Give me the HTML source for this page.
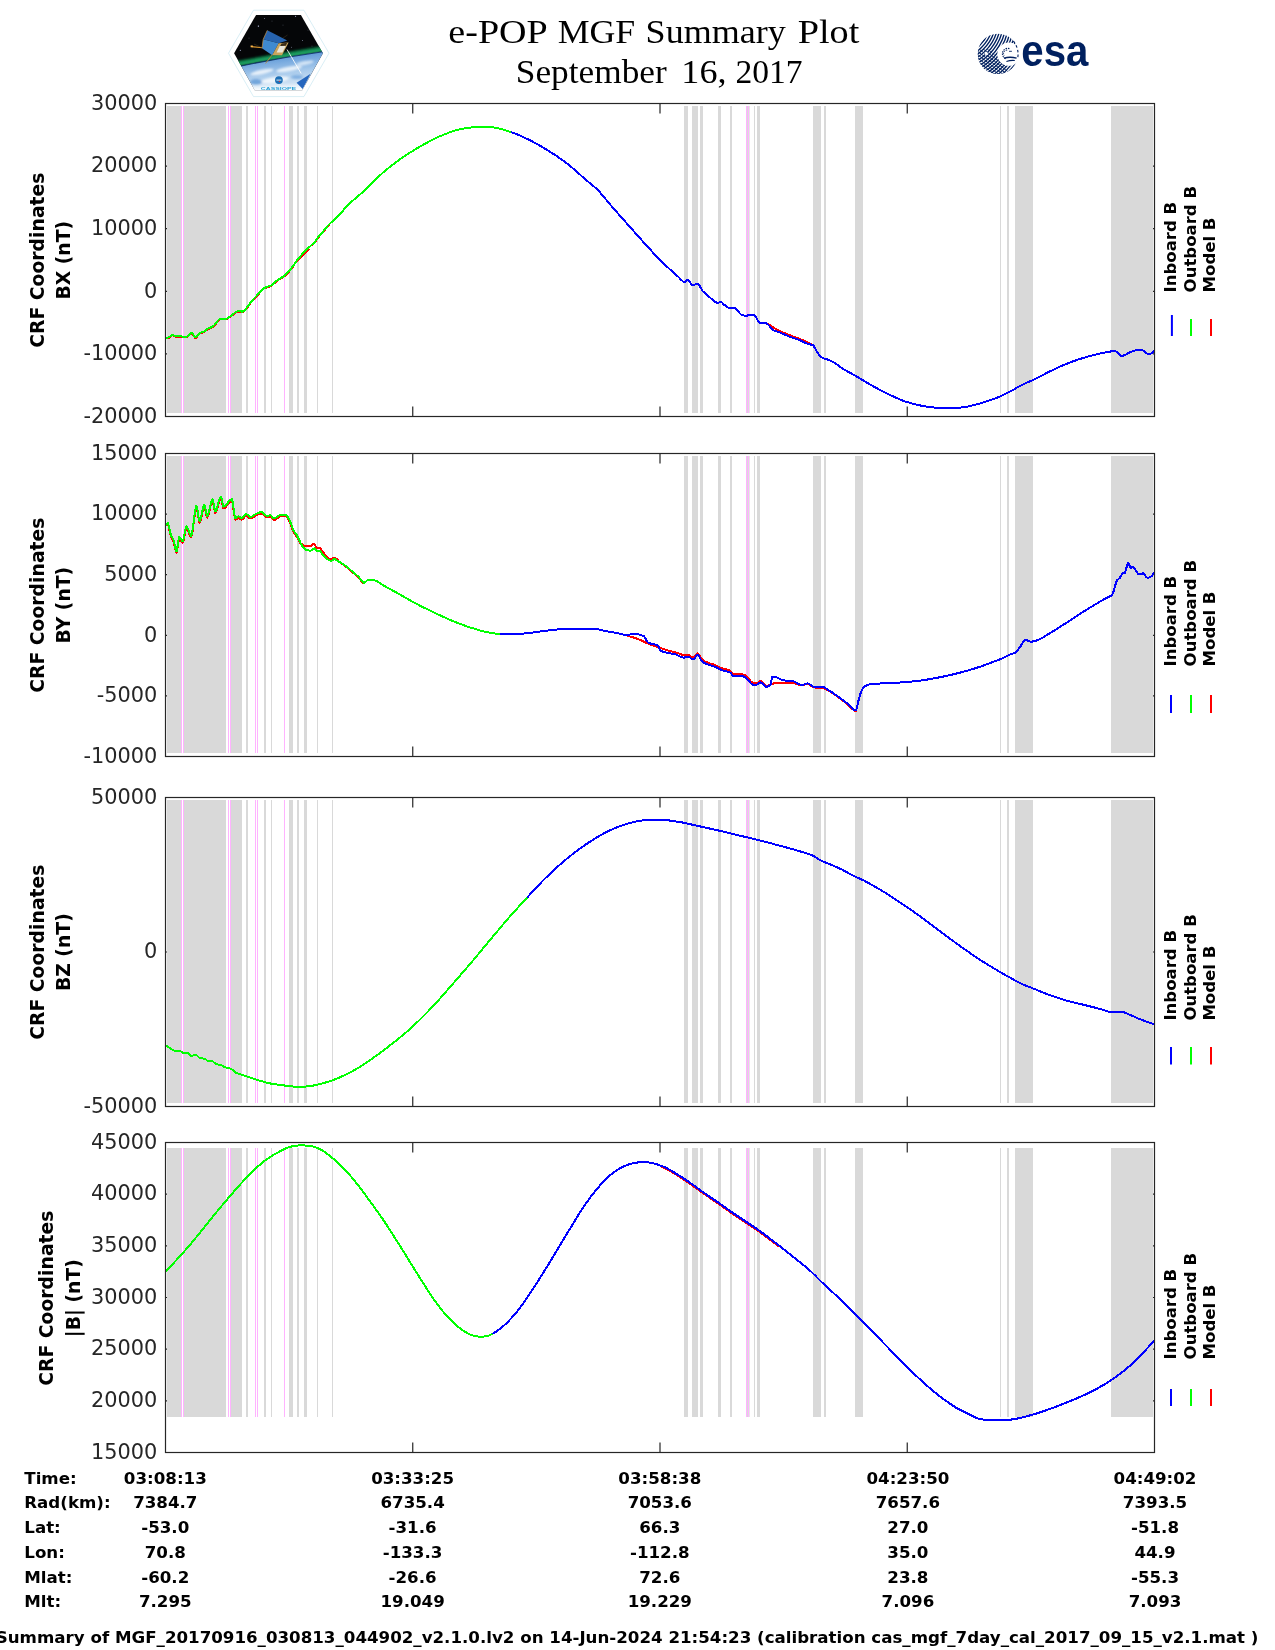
<!DOCTYPE html>
<html lang="en"><head><meta charset="utf-8"><title>e-POP MGF Summary Plot - September 16, 2017</title>
<style>
html,body{margin:0;padding:0;background:#fff}
body{width:1275px;height:1650px;overflow:hidden;position:relative}
svg{position:absolute;left:0;top:0;display:block;will-change:transform}
text{font-family:"DejaVu Sans","Liberation Sans",sans-serif}
.ti{font-family:"Liberation Serif","DejaVu Serif",serif;font-size:33px;fill:#000}
.tk{font-size:20.83px;fill:#262626}
.yl{font-size:18.8px;font-weight:bold;fill:#000}
.lg{font-size:16.55px;font-weight:bold;fill:#000}
.tb{font-size:16.67px;font-weight:bold;fill:#000}
.ft{font-size:16.67px;font-weight:bold;fill:#000}
</style></head><body>
<svg width="1275" height="1650" viewBox="0 0 1275 1650">
<rect width="1275" height="1650" fill="#fff"/>
<g id="cassiope-logo">
<defs>
<clipPath id="hexclip"><polygon points="234.1,53.3 256.1,14.9 300.9,14.9 322.9,53.3 302.2,90.2 254.8,90.2"/></clipPath>
<linearGradient id="earthg" x1="0" y1="0" x2="0.25" y2="1"><stop offset="0" stop-color="#2a69bb"/><stop offset="0.3" stop-color="#6ea3dc"/><stop offset="0.6" stop-color="#a9cbec"/><stop offset="0.85" stop-color="#cfe2f4"/><stop offset="1" stop-color="#e6f0fa"/></linearGradient>
<linearGradient id="fadeg" x1="0" y1="0" x2="0" y2="1"><stop offset="0" stop-color="#fff" stop-opacity="0"/><stop offset="1" stop-color="#fff" stop-opacity="1"/></linearGradient>
<filter id="blur1" x="-20%" y="-50%" width="140%" height="200%"><feGaussianBlur stdDeviation="1.1"/></filter>
<filter id="blur2" x="-20%" y="-20%" width="140%" height="140%"><feGaussianBlur stdDeviation="0.8"/></filter>
</defs>
<polygon points="228.5,53.2 253.5,10.2 303.9,10.2 329,53.2 303.9,96.6 253.5,96.6" fill="#fff" stroke="#bfe3ee" stroke-width="0.6"/>
<g clip-path="url(#hexclip)">
<rect x="230" y="12" width="96" height="82" fill="#050608"/>
<circle cx="258.4" cy="26.1" r="0.7" fill="#cfd8ff"/>
<circle cx="264.5" cy="18.5" r="0.4" fill="#cfd8ff"/>
<circle cx="295.6" cy="16.3" r="0.5" fill="#cfd8ff"/>
<circle cx="240.3" cy="50.2" r="0.5" fill="#cfd8ff"/>
<circle cx="302.4" cy="40.5" r="0.4" fill="#cfd8ff"/>
<circle cx="291.6" cy="47.2" r="0.4" fill="#cfd8ff"/>
<circle cx="283" cy="25" r="0.3" fill="#cfd8ff"/>
<circle cx="308" cy="30" r="0.3" fill="#cfd8ff"/>
<circle cx="272" cy="21" r="0.3" fill="#cfd8ff"/>
<circle cx="249" cy="38" r="0.3" fill="#cfd8ff"/>
<circle cx="312" cy="46" r="0.3" fill="#cfd8ff"/>
<path d="M232 64.3 Q275 56.3 325 48.3" stroke="#0f7a47" stroke-width="5" fill="none" filter="url(#blur1)"/><path d="M232 65.5 Q275 57.3 325 49.6" stroke="#27b06c" stroke-width="2.2" fill="none" filter="url(#blur2)"/>
<path d="M230 68.5 Q276 58.2 326 51.2 L326 95 L230 95 Z" fill="url(#earthg)"/>
<path d="M236 67.2 Q278 58.0 324 51.6" stroke="#0c2f66" stroke-width="1.1" fill="none" opacity="0.85"/>
<g filter="url(#blur2)" opacity="0.75"><ellipse cx="262" cy="72" rx="12" ry="2.2" fill="#fff" transform="rotate(-12 262 72)"/><ellipse cx="289" cy="69" rx="13" ry="2.4" fill="#fff" transform="rotate(-10 289 69)"/><ellipse cx="275" cy="80" rx="14" ry="3" fill="#fff" transform="rotate(-8 275 80)"/><ellipse cx="305" cy="63" rx="9" ry="2" fill="#eaf3fb" transform="rotate(-10 305 63)"/><ellipse cx="256" cy="82" rx="6" ry="3" fill="#5b95d4"/><ellipse cx="297" cy="77" rx="6" ry="2" fill="#6fa4dc"/></g>
<rect x="230" y="83" width="96" height="8" fill="url(#fadeg)"/>
<polygon points="296.6,82.7 310.6,73.8 302.7,89" fill="#2566bd"/>
<path d="M287 49.5 L301.2 73.5" stroke="#fff" stroke-width="0.9" opacity="0.95"/>
<path d="M251.5 46.6 L262.4 47.8" stroke="#d9952e" stroke-width="1.1"/>
<path d="M250.6 46.4 h2.2" stroke="#ffb84a" stroke-width="1.6"/>
<path d="M272.5 54.5 L265.6 63.4" stroke="#b98a3a" stroke-width="0.9"/>
<path d="M262 47.8 L254 44 M277 42 L287.5 35" stroke="#5a4a2a" stroke-width="0.4"/>
<polygon points="267.3,30.3 287.3,40.6 278.6,43.2 263.2,39.3" fill="#2763ae"/>
<polygon points="263.2,39.3 278.6,43.2 272.2,55.2 262,48.2" fill="#3f8ad0"/>
<polygon points="278.6,43.2 288.6,42.6 282,55.2 272.2,55.2" fill="#c9a45c"/>
<polygon points="279.8,46 285.8,45.8 282.4,52.4 276.6,52.4" fill="#e9e6da"/>
<polygon points="281.5,43.4 287.2,42.8 285.8,45.8 280.2,46" fill="#3a2c18"/>
<path d="M267.3 30.3 L263.2 39.3 L262 48.2" stroke="#c98f3c" stroke-width="0.7" fill="none"/>
<circle cx="278.9" cy="80.1" r="3.9" fill="#1c6fb6"/><path d="M276.4 80.1 h5" stroke="#fff" stroke-width="0.8"/><circle cx="279.4" cy="81.4" r="0.6" fill="#d33"/>
</g>
<text x="278.5" y="90.3" text-anchor="middle" textLength="35.4" lengthAdjust="spacingAndGlyphs" style="font-family:'Liberation Sans','DejaVu Sans',sans-serif;font-size:3.7px;font-weight:bold;fill:#2aa1d6">CASSIOPE</text>
</g>
<g id="esa-logo">
<defs>
<clipPath id="esaclip"><circle cx="997.9" cy="53.9" r="20.2"/></clipPath>
<mask id="esamask"><rect x="970" y="28" width="60" height="52" fill="#fff"/><circle cx="1008.9" cy="54.2" r="11.6" fill="#000"/><circle cx="986.2" cy="53.4" r="1.6" fill="#000"/></mask>
<clipPath id="esall"><polygon points="975,49 988,49 1004,63 1011,78 975,78"/></clipPath>
</defs>
<g clip-path="url(#esaclip)"><g mask="url(#esamask)">
<circle cx="952.9" cy="18.9" r="35.20" fill="none" stroke="#00205f" stroke-width="1.35"/>
<circle cx="952.9" cy="18.9" r="37.80" fill="none" stroke="#00205f" stroke-width="1.35"/>
<circle cx="952.9" cy="18.9" r="40.40" fill="none" stroke="#00205f" stroke-width="1.35"/>
<circle cx="952.9" cy="18.9" r="43.00" fill="none" stroke="#00205f" stroke-width="1.35"/>
<circle cx="952.9" cy="18.9" r="45.60" fill="none" stroke="#00205f" stroke-width="1.35"/>
<circle cx="952.9" cy="18.9" r="48.20" fill="none" stroke="#00205f" stroke-width="1.35"/>
<circle cx="952.9" cy="18.9" r="50.80" fill="none" stroke="#00205f" stroke-width="1.35"/>
<circle cx="952.9" cy="18.9" r="53.40" fill="none" stroke="#00205f" stroke-width="1.35"/>
<circle cx="952.9" cy="18.9" r="56.00" fill="none" stroke="#00205f" stroke-width="1.35"/>
<circle cx="952.9" cy="18.9" r="58.60" fill="none" stroke="#00205f" stroke-width="1.35"/>
<circle cx="952.9" cy="18.9" r="61.20" fill="none" stroke="#00205f" stroke-width="1.35"/>
<circle cx="952.9" cy="18.9" r="63.80" fill="none" stroke="#00205f" stroke-width="1.35"/>
<circle cx="952.9" cy="18.9" r="66.40" fill="none" stroke="#00205f" stroke-width="1.35"/>
<circle cx="952.9" cy="18.9" r="69.00" fill="none" stroke="#00205f" stroke-width="1.35"/>
<circle cx="952.9" cy="18.9" r="71.60" fill="none" stroke="#00205f" stroke-width="1.35"/>
<circle cx="952.9" cy="18.9" r="74.20" fill="none" stroke="#00205f" stroke-width="1.35"/>
<circle cx="952.9" cy="18.9" r="76.80" fill="none" stroke="#00205f" stroke-width="1.35"/>
<circle cx="952.9" cy="18.9" r="79.40" fill="none" stroke="#00205f" stroke-width="1.35"/>
<g clip-path="url(#esall)">
<path d="M967.9 27.90 H1027.9" transform="rotate(38 997.9 53.9)" stroke="#00205f" stroke-width="0.85"/>
<path d="M967.9 30.50 H1027.9" transform="rotate(38 997.9 53.9)" stroke="#00205f" stroke-width="0.85"/>
<path d="M967.9 33.10 H1027.9" transform="rotate(38 997.9 53.9)" stroke="#00205f" stroke-width="0.85"/>
<path d="M967.9 35.70 H1027.9" transform="rotate(38 997.9 53.9)" stroke="#00205f" stroke-width="0.85"/>
<path d="M967.9 38.30 H1027.9" transform="rotate(38 997.9 53.9)" stroke="#00205f" stroke-width="0.85"/>
<path d="M967.9 40.90 H1027.9" transform="rotate(38 997.9 53.9)" stroke="#00205f" stroke-width="0.85"/>
<path d="M967.9 43.50 H1027.9" transform="rotate(38 997.9 53.9)" stroke="#00205f" stroke-width="0.85"/>
<path d="M967.9 46.10 H1027.9" transform="rotate(38 997.9 53.9)" stroke="#00205f" stroke-width="0.85"/>
<path d="M967.9 48.70 H1027.9" transform="rotate(38 997.9 53.9)" stroke="#00205f" stroke-width="0.85"/>
<path d="M967.9 51.30 H1027.9" transform="rotate(38 997.9 53.9)" stroke="#00205f" stroke-width="0.85"/>
<path d="M967.9 53.90 H1027.9" transform="rotate(38 997.9 53.9)" stroke="#00205f" stroke-width="0.85"/>
<path d="M967.9 56.50 H1027.9" transform="rotate(38 997.9 53.9)" stroke="#00205f" stroke-width="0.85"/>
<path d="M967.9 59.10 H1027.9" transform="rotate(38 997.9 53.9)" stroke="#00205f" stroke-width="0.85"/>
<path d="M967.9 61.70 H1027.9" transform="rotate(38 997.9 53.9)" stroke="#00205f" stroke-width="0.85"/>
<path d="M967.9 64.30 H1027.9" transform="rotate(38 997.9 53.9)" stroke="#00205f" stroke-width="0.85"/>
<path d="M967.9 66.90 H1027.9" transform="rotate(38 997.9 53.9)" stroke="#00205f" stroke-width="0.85"/>
<path d="M967.9 69.50 H1027.9" transform="rotate(38 997.9 53.9)" stroke="#00205f" stroke-width="0.85"/>
<path d="M967.9 72.10 H1027.9" transform="rotate(38 997.9 53.9)" stroke="#00205f" stroke-width="0.85"/>
<path d="M967.9 74.70 H1027.9" transform="rotate(38 997.9 53.9)" stroke="#00205f" stroke-width="0.85"/>
<path d="M967.9 77.30 H1027.9" transform="rotate(38 997.9 53.9)" stroke="#00205f" stroke-width="0.85"/>
<path d="M967.9 79.90 H1027.9" transform="rotate(38 997.9 53.9)" stroke="#00205f" stroke-width="0.85"/>
</g>
</g></g>
<path d="M1013.4 41.2 A20.2 20.2 0 0 1 1017.6 58.5" fill="none" stroke="#00205f" stroke-width="1.1" stroke-dasharray="2.6 2.2"/>
<path d="M1009.4 48.6 A5.2 5.2 0 1 0 1006.2 58.9" fill="none" stroke="#00205f" stroke-width="1.1" stroke-dasharray="1.5 0.9"/>
<path d="M1007.2 50.2 A3.4 3.4 0 0 0 1004.2 55.6" fill="none" stroke="#00205f" stroke-width="1" stroke-dasharray="1.4 0.9"/>
<path d="M1009 51.3 h2.9" stroke="#00205f" stroke-width="0.9"/>
<path d="M1004 58.2 Q1010 56.3 1016.6 58.2" fill="none" stroke="#00205f" stroke-width="1.3"/>
<path d="M1006.4 61.6 Q1010.6 60 1014.8 60.5" fill="none" stroke="#00205f" stroke-width="1.1"/>
<text x="1021.3" y="66" textLength="67" lengthAdjust="spacingAndGlyphs" style="font-family:'Liberation Sans','DejaVu Sans',sans-serif;font-size:45px;font-weight:bold;fill:#00205f">esa</text>
</g>
<text class="ti" y="43.1"><tspan x="448.37" textLength="97.92" lengthAdjust="spacingAndGlyphs">e-POP</tspan> <tspan x="557.73" textLength="77.56" lengthAdjust="spacingAndGlyphs">MGF</tspan> <tspan x="645.63" textLength="140.10" lengthAdjust="spacingAndGlyphs">Summary</tspan> <tspan x="797.65" textLength="61.66" lengthAdjust="spacingAndGlyphs">Plot</tspan></text>
<text class="ti" y="83"><tspan x="515.83" textLength="150.85" lengthAdjust="spacingAndGlyphs">September</tspan> <tspan x="681.39" textLength="45.15" lengthAdjust="spacingAndGlyphs">16,</tspan> <tspan x="735.42" textLength="67.07" lengthAdjust="spacingAndGlyphs">2017</tspan></text>
<g id="plot1">
<path d="M412.75 103.5 v10 M412.75 416.5 v-10 M660.00 103.5 v10 M660.00 416.5 v-10 M907.25 103.5 v10 M907.25 416.5 v-10 M165.5 166.10 h10 M1154.5 166.10 h-10 M165.5 228.70 h10 M1154.5 228.70 h-10 M165.5 291.30 h10 M1154.5 291.30 h-10 M165.5 353.90 h10 M1154.5 353.90 h-10" stroke="#262626" stroke-width="1.2" fill="none"/>
<rect x="167" y="106" width="14" height="307" fill="#d9d9d9"/>
<rect x="181" y="106" width="1" height="307" fill="#ffb3ff"/>
<rect x="183" y="106" width="1" height="307" fill="#ffb3ff"/>
<rect x="184" y="106" width="42" height="307" fill="#d9d9d9"/>
<rect x="228" y="106" width="1" height="307" fill="#ffb3ff"/>
<rect x="230" y="106" width="1" height="307" fill="#ffb3ff"/>
<rect x="231" y="106" width="11" height="307" fill="#d9d9d9"/>
<rect x="246" y="106" width="2" height="307" fill="#d9d9d9"/>
<rect x="255" y="106" width="1" height="307" fill="#ffb3ff"/>
<rect x="257" y="106" width="1" height="307" fill="#ffb3ff"/>
<rect x="264" y="106" width="2" height="307" fill="#d9d9d9"/>
<rect x="271" y="106" width="1" height="307" fill="#d9d9d9"/>
<rect x="284" y="106" width="1" height="307" fill="#ffb3ff"/>
<rect x="289" y="106" width="4" height="307" fill="#d9d9d9"/>
<rect x="297" y="106" width="2" height="307" fill="#d9d9d9"/>
<rect x="304" y="106" width="3" height="307" fill="#d9d9d9"/>
<rect x="317" y="106" width="1" height="307" fill="#d9d9d9"/>
<rect x="332" y="106" width="1" height="307" fill="#d9d9d9"/>
<rect x="684" y="106" width="4" height="307" fill="#d9d9d9"/>
<rect x="692" y="106" width="6" height="307" fill="#d9d9d9"/>
<rect x="700" y="106" width="3" height="307" fill="#d9d9d9"/>
<rect x="718" y="106" width="3" height="307" fill="#d9d9d9"/>
<rect x="730" y="106" width="2" height="307" fill="#d9d9d9"/>
<rect x="746" y="106" width="1" height="307" fill="#ffb3ff"/>
<rect x="747" y="106" width="1" height="307" fill="#d9d9d9"/>
<rect x="748" y="106" width="1" height="307" fill="#ffb3ff"/>
<rect x="749" y="106" width="1" height="307" fill="#e6e6e6"/>
<rect x="754" y="106" width="1" height="307" fill="#d9d9d9"/>
<rect x="757" y="106" width="3" height="307" fill="#d9d9d9"/>
<rect x="813" y="106" width="8" height="307" fill="#d9d9d9"/>
<rect x="824" y="106" width="2" height="307" fill="#d9d9d9"/>
<rect x="855" y="106" width="8" height="307" fill="#d9d9d9"/>
<rect x="1000" y="106" width="1" height="307" fill="#d9d9d9"/>
<rect x="1007" y="106" width="2" height="307" fill="#d9d9d9"/>
<rect x="1015" y="106" width="18" height="307" fill="#d9d9d9"/>
<rect x="1111" y="106" width="42" height="307" fill="#d9d9d9"/>
<path d="M167.0 338.5 L168.0 338.1 L169.0 337.7 L169.4 337.5 L170.0 337.1 L171.0 336.2 L172.0 335.4 L172.5 335.3 L173.0 335.4 L174.0 336.0 L175.0 336.6 L175.7 336.9 L176.0 336.9 L177.0 336.9 L178.0 336.9 L179.0 336.9 L180.0 336.9 L180.4 336.9 L181.0 336.9 L182.0 337.0 L183.0 337.1 L184.0 337.3 L185.0 337.4 L185.9 337.5 L186.0 337.5 L187.0 337.0 L188.0 336.2 L189.0 335.3 L189.0 335.3 L190.0 334.5 L191.0 333.7 L191.8 333.4 L192.0 333.4 L193.0 334.5 L194.0 336.4 L195.0 337.8 L195.3 338.0 L196.0 337.7 L197.0 336.7 L198.0 335.4 L199.0 334.1 L200.0 333.3 L200.0 333.2 L201.0 333.0 L202.0 332.8 L203.0 332.5 L203.1 332.5 L204.0 332.0 L205.0 331.3 L206.0 330.4 L207.0 329.7 L207.1 329.6 L208.0 329.1 L209.0 328.7 L210.0 328.2 L211.0 327.8 L212.0 327.3 L213.0 326.7 L213.3 326.5 L214.0 326.0 L215.0 324.9 L216.0 323.6 L217.0 322.3 L218.0 321.0 L219.0 320.0 L220.0 319.5 L220.4 319.4 L221.0 319.4 L222.0 319.4 L223.0 319.4 L224.0 319.4 L225.0 319.4 L225.1 319.4 L226.0 319.3 L227.0 318.9 L228.0 318.3 L229.0 317.6 L230.0 316.9 L230.6 316.5 L231.0 316.2 L232.0 315.5 L233.0 314.7 L234.0 313.9 L235.0 313.1 L236.0 312.4 L237.0 311.9 L238.0 311.6 L238.4 311.6 L239.0 311.6 L240.0 311.8 L241.0 311.9 L242.0 312.1 L242.4 312.1 L243.0 311.9 L244.0 311.2 L245.0 310.2 L245.5 309.7 L246.0 309.2 L247.0 308.0 L248.0 306.6 L249.0 305.1 L250.0 303.7 L251.0 302.4 L251.0 302.3 L252.0 301.2 L253.0 300.1 L254.0 299.0 L255.0 298.0 L256.0 297.0 L257.0 295.9 L257.3 295.6 L258.0 294.8 L259.0 293.6 L260.0 292.3 L261.0 291.2 L262.0 290.1 L263.0 289.2 L263.5 288.9 L264.0 288.6 L265.0 288.2 L266.0 287.8 L267.0 287.5 L267.5 287.3 L268.0 287.1 L269.0 286.8 L270.0 286.5 L270.6 286.2 L271.0 286.0 L272.0 285.3 L273.0 284.5 L274.0 283.6 L275.0 282.7 L276.0 281.8 L277.0 280.9 L277.6 280.4 L278.0 280.2 L279.0 279.5 L280.0 278.9 L281.0 278.4 L282.0 277.8 L283.0 277.2 L284.0 276.6 L284.7 276.0 L285.0 275.8 L286.0 274.9 L287.0 273.9 L288.0 272.8 L289.0 271.6 L290.0 270.4 L291.0 269.1 L291.8 268.1 L292.0 267.9 L293.0 266.6 L294.0 265.2" stroke="#f00" stroke-width="2" fill="none" stroke-linejoin="round" shape-rendering="crispEdges"/>
<path d="M297.0 261.8 L298.0 260.4 L298.8 259.3 L299.0 259.2 L300.0 258.0 L301.0 256.9 L302.0 255.8 L303.0 254.8 L304.0 253.7 L305.0 252.7 L305.9 251.8 L306.0 251.7 L307.0 250.7 L308.0 249.7 L309.0 248.8" stroke="#f00" stroke-width="2" fill="none" stroke-linejoin="round" shape-rendering="crispEdges"/>
<path d="M312.0 245.1 L312.0 245.1 L313.0 244.2 L314.0 243.3 L314.5 242.7 L315.0 242.2 L316.0 240.6 L317.0 239.1 L317.0 239.1 L318.0 237.9 L319.0 236.7 L320.0 235.5 L321.0 234.4 L322.0 233.3 L322.6 232.5 L323.0 232.1 L324.0 230.9 L325.0 229.6 L326.0 228.4 L327.0 227.2 L328.0 226.0 L328.9 225.0 L329.0 224.9 L330.0 224.0" stroke="#f00" stroke-width="2" fill="none" stroke-linejoin="round" shape-rendering="crispEdges"/>
<path d="M768.0 323.5 L769.0 324.5 L770.0 325.3 L770.4 325.6 L771.0 326.0 L772.0 326.7 L773.0 327.3 L774.0 327.9 L775.0 328.5 L776.0 329.0 L777.0 329.5 L778.0 330.0 L779.0 330.5 L779.8 330.9 L780.0 331.0 L781.0 331.5 L782.0 332.0 L783.0 332.4 L784.0 332.8 L785.0 333.3 L786.0 333.7 L787.0 334.1 L788.0 334.5 L789.0 334.9 L789.2 335.0 L790.0 335.3 L791.0 335.7 L792.0 336.1 L793.0 336.4 L794.0 336.8 L795.0 337.2 L796.0 337.5 L797.0 337.9 L798.0 338.3 L799.0 338.6 L800.0 339.0 L801.0 339.4 L802.0 339.8 L803.0 340.2 L803.3 340.3 L804.0 340.6 L805.0 341.0 L806.0 341.5 L807.0 341.9 L808.0 342.4 L809.0 342.9 L810.0 343.4 L811.0 343.9 L812.0 344.4 L812.7 344.7" stroke="#f00" stroke-width="2" fill="none" stroke-linejoin="round" shape-rendering="crispEdges"/>
<path d="M510.0 131.7 L510.8 132.0 L511.0 132.1 L512.0 132.4 L513.0 132.7 L514.0 133.1 L515.0 133.5 L516.0 133.9 L517.0 134.3 L518.0 134.7 L519.0 135.1 L520.0 135.6 L521.0 136.0 L522.0 136.5 L523.0 136.9 L524.0 137.4 L525.0 137.9 L526.0 138.4 L527.0 138.9 L528.0 139.3 L529.0 139.8 L529.6 140.2 L530.0 140.3 L531.0 140.8 L532.0 141.3 L533.0 141.9 L534.0 142.4 L535.0 142.9 L536.0 143.5 L537.0 144.0 L538.0 144.6 L539.0 145.2 L540.0 145.7 L541.0 146.3 L542.0 146.9 L543.0 147.5 L544.0 148.1 L545.0 148.7 L546.0 149.3 L547.0 149.9 L548.0 150.5 L548.4 150.8 L549.0 151.2 L550.0 151.8 L551.0 152.4 L552.0 153.0 L553.0 153.7 L554.0 154.3 L555.0 155.0 L556.0 155.6 L557.0 156.3 L558.0 157.0 L559.0 157.7 L560.0 158.4 L561.0 159.1 L562.0 159.8 L563.0 160.5 L564.0 161.2 L565.0 162.0 L566.0 162.7 L567.0 163.5 L567.3 163.7 L568.0 164.2 L569.0 165.0 L570.0 165.8 L571.0 166.7 L572.0 167.5 L573.0 168.4 L574.0 169.2 L575.0 170.1 L576.0 171.0 L577.0 171.9 L578.0 172.8 L579.0 173.7 L580.0 174.6 L581.0 175.5 L582.0 176.4 L583.0 177.3 L584.0 178.2 L585.0 179.0 L586.0 179.9 L586.1 180.0 L587.0 180.8 L588.0 181.6 L589.0 182.4 L590.0 183.2 L591.0 184.0 L592.0 184.9 L593.0 185.7 L594.0 186.6 L595.0 187.4 L596.0 188.4 L597.0 189.3 L597.1 189.4 L598.0 190.3 L599.0 191.4 L600.0 192.4 L601.0 193.6 L602.0 194.7 L603.0 195.9 L604.0 197.1 L605.0 198.3 L606.0 199.5 L607.0 200.7 L608.0 201.9 L609.0 203.1 L610.0 204.3 L611.0 205.5 L611.2 205.7 L612.0 206.6 L613.0 207.8 L614.0 208.9 L615.0 210.0 L616.0 211.2 L617.0 212.3 L618.0 213.5 L619.0 214.6 L620.0 215.7 L621.0 216.9 L622.0 218.0 L623.0 219.1 L624.0 220.3 L625.0 221.4 L626.0 222.5 L627.0 223.6 L628.0 224.8 L629.0 225.9 L630.0 227.0 L630.0 227.1 L631.0 228.1 L632.0 229.3 L633.0 230.4 L634.0 231.5 L635.0 232.6 L636.0 233.8 L637.0 234.9 L638.0 236.0 L639.0 237.1 L640.0 238.3 L641.0 239.4 L642.0 240.5 L643.0 241.6 L644.0 242.7 L645.0 243.8 L646.0 244.9 L647.0 246.0 L648.0 247.1 L648.8 248.1 L649.0 248.2 L650.0 249.3 L651.0 250.4 L652.0 251.5 L653.0 252.6 L654.0 253.8 L655.0 254.9 L656.0 255.9 L657.0 257.0 L658.0 258.1 L659.0 259.1 L660.0 260.2 L661.0 261.2 L661.4 261.6 L662.0 262.1 L663.0 263.1 L664.0 264.0 L665.0 264.9 L666.0 265.8 L667.0 266.7 L668.0 267.6 L669.0 268.5 L670.0 269.4 L670.0 269.4 L671.0 270.3 L672.0 271.2 L673.0 272.1 L674.0 273.0 L675.0 273.9 L676.0 274.8 L677.0 275.7 L677.8 276.5 L678.0 276.6 L679.0 277.5 L680.0 278.6 L681.0 279.7 L682.0 280.6 L683.0 281.4 L684.0 281.9 L684.6 282.0 L685.0 281.8 L686.0 280.7 L687.0 279.7 L687.3 279.6 L688.0 279.9 L689.0 280.9 L690.0 282.3 L691.0 283.7 L692.0 284.8 L692.7 285.1 L693.0 285.1 L694.0 284.9 L695.0 284.5 L696.0 284.1 L697.0 283.9 L697.5 283.8 L698.0 284.0 L699.0 284.9 L700.0 286.5 L701.0 288.3 L702.0 290.0 L702.9 291.4 L703.0 291.4 L704.0 292.4 L705.0 293.4 L706.0 294.3 L707.0 295.1 L708.0 295.9 L709.0 296.7 L709.2 296.9 L710.0 297.5 L711.0 298.4 L712.0 299.3 L713.0 300.2 L714.0 301.0 L715.0 301.8 L716.0 302.3 L717.0 302.7 L717.8 302.8 L718.0 302.8 L719.0 302.6 L720.0 302.2 L721.0 302.0 L721.0 302.0 L722.0 302.5 L723.0 303.6 L724.0 304.6 L724.1 304.7 L725.0 305.3 L726.0 306.1 L727.0 306.8 L728.0 307.4 L729.0 307.9 L730.0 308.1 L730.4 308.2 L731.0 308.1 L732.0 308.0 L733.0 307.9 L734.0 307.9 L734.3 307.8 L735.0 308.0 L736.0 308.7 L737.0 309.7 L738.0 311.0 L739.0 312.3 L740.0 313.5 L741.0 314.4 L741.4 314.6 L742.0 314.8 L743.0 315.2 L744.0 315.5 L745.0 315.7 L746.0 315.8 L746.1 315.8 L747.0 315.7 L748.0 315.3 L749.0 314.9 L750.0 314.7 L750.0 314.7 L751.0 314.8 L752.0 314.8 L753.0 314.8 L753.9 314.9 L754.0 314.9 L755.0 315.6 L756.0 317.0 L757.0 318.8 L758.0 320.7 L759.0 322.2 L760.0 323.0 L760.2 323.1 L761.0 323.0 L762.0 323.0 L763.0 322.9 L764.0 322.8 L764.9 322.7 L765.0 322.7 L766.0 323.1 L767.0 323.8 L768.0 324.6 L768.0 324.6 L769.0 325.5 L770.0 326.8 L771.0 328.1 L772.0 329.2 L772.7 329.8 L773.0 329.9 L774.0 330.4 L775.0 330.8 L776.0 331.2 L777.0 331.5 L778.0 331.8 L779.0 332.2 L779.8 332.5 L780.0 332.5 L781.0 333.0 L782.0 333.4 L783.0 333.9 L784.0 334.3 L785.0 334.8 L786.0 335.2 L787.0 335.6 L787.6 335.9 L788.0 336.0 L789.0 336.4 L790.0 336.8 L791.0 337.1 L792.0 337.4 L793.0 337.7 L794.0 338.1 L795.0 338.4 L796.0 338.7 L797.0 339.1 L798.0 339.4 L798.6 339.7 L799.0 339.8 L800.0 340.2 L801.0 340.7 L802.0 341.2 L803.0 341.7 L804.0 342.2 L805.0 342.7 L806.0 343.1 L807.0 343.5 L808.0 343.9 L808.0 343.9 L809.0 344.2 L810.0 344.4 L811.0 344.6 L812.0 344.9 L812.7 345.2 L813.0 345.3 L814.0 346.4 L815.0 348.1 L816.0 350.0 L817.0 351.8 L817.5 352.5 L818.0 353.2 L819.0 354.6 L820.0 355.9 L821.0 356.9 L821.4 357.3 L822.0 357.6 L823.0 358.2 L824.0 358.6 L824.5 358.8 L825.0 359.0 L826.0 359.2 L827.0 359.4 L828.0 359.6 L828.4 359.8 L829.0 359.9 L830.0 360.4 L831.0 360.9 L832.0 361.4 L833.0 362.0 L834.0 362.6 L834.7 363.1 L835.0 363.2 L836.0 363.9 L837.0 364.6 L838.0 365.3 L839.0 366.0 L840.0 366.8 L841.0 367.5 L842.0 368.2 L842.5 368.5 L843.0 368.8 L844.0 369.4 L845.0 370.0 L846.0 370.6 L847.0 371.1 L848.0 371.7 L849.0 372.2 L850.0 372.8 L851.0 373.3 L852.0 373.9 L853.0 374.4 L854.0 375.0 L855.0 375.5 L855.1 375.6 L856.0 376.1 L857.0 376.7 L858.0 377.3 L859.0 377.9 L860.0 378.5 L861.0 379.1 L862.0 379.7 L863.0 380.3 L864.0 380.9 L865.0 381.5 L866.0 382.1 L867.0 382.7 L867.0 382.7 L868.0 383.3 L869.0 383.8 L870.0 384.4 L871.0 385.0 L872.0 385.5 L873.0 386.1 L874.0 386.7 L875.0 387.2 L876.0 387.8 L877.0 388.3 L878.0 388.9 L878.9 389.4 L879.0 389.4 L880.0 389.9 L881.0 390.4 L882.0 391.0 L883.0 391.5 L884.0 392.0 L885.0 392.5 L886.0 393.0 L887.0 393.5 L888.0 394.0 L889.0 394.4 L890.0 394.9 L890.9 395.4 L891.0 395.4 L892.0 395.9 L893.0 396.3 L894.0 396.8 L895.0 397.3 L896.0 397.7 L897.0 398.2 L898.0 398.6 L899.0 399.1 L900.0 399.5 L901.0 399.9 L902.0 400.3 L902.8 400.6 L903.0 400.7 L904.0 401.0 L905.0 401.4 L906.0 401.7 L907.0 402.0 L908.0 402.3 L909.0 402.6 L910.0 402.9 L911.0 403.2 L912.0 403.5 L913.0 403.7 L914.0 404.0 L914.8 404.2 L915.0 404.2 L916.0 404.5 L917.0 404.7 L918.0 405.0 L919.0 405.2 L920.0 405.4 L921.0 405.6 L922.0 405.8 L923.0 406.0 L924.0 406.2 L925.0 406.3 L926.0 406.5 L926.8 406.6 L927.0 406.6 L928.0 406.8 L929.0 406.9 L930.0 407.0 L931.0 407.1 L932.0 407.3 L933.0 407.4 L934.0 407.5 L935.0 407.6 L936.0 407.6 L937.0 407.7 L938.0 407.8 L938.7 407.8 L939.0 407.8 L940.0 407.8 L941.0 407.9 L942.0 407.9 L943.0 407.9 L944.0 408.0 L945.0 408.0 L946.0 408.0 L947.0 408.0 L948.0 408.0 L949.0 408.0 L950.0 408.0 L950.7 408.0 L951.0 408.0 L952.0 408.0 L953.0 408.0 L954.0 408.0 L955.0 407.9 L956.0 407.9 L957.0 407.8 L958.0 407.7 L959.0 407.6 L960.0 407.6 L961.0 407.5 L962.0 407.4 L962.7 407.3 L963.0 407.3 L964.0 407.2 L965.0 407.0 L966.0 406.9 L967.0 406.7 L968.0 406.5 L969.0 406.3 L970.0 406.0 L971.0 405.8 L972.0 405.6 L973.0 405.3 L974.0 405.1 L974.6 404.9 L975.0 404.8 L976.0 404.6 L977.0 404.3 L978.0 404.0 L979.0 403.8 L980.0 403.5 L981.0 403.2 L982.0 402.8 L983.0 402.5 L984.0 402.2 L985.0 401.9 L986.0 401.5 L986.6 401.3 L987.0 401.2 L988.0 400.9 L989.0 400.6 L990.0 400.2 L991.0 399.9 L992.0 399.5 L993.0 399.2 L994.0 398.8 L995.0 398.4 L996.0 398.1 L997.0 397.7 L998.0 397.3 L998.5 397.0 L999.0 396.9 L1000.0 396.4 L1001.0 396.0 L1002.0 395.5 L1003.0 395.1 L1004.0 394.6 L1005.0 394.1 L1006.0 393.6 L1007.0 393.1 L1008.0 392.6 L1009.0 392.1 L1010.0 391.6 L1010.5 391.3 L1011.0 391.1 L1012.0 390.5 L1013.0 390.0 L1014.0 389.4 L1015.0 388.8 L1016.0 388.2 L1017.0 387.6 L1018.0 387.0 L1019.0 386.5 L1020.0 385.9 L1021.0 385.4 L1022.0 384.8 L1022.5 384.6 L1023.0 384.4 L1024.0 383.9 L1025.0 383.4 L1026.0 383.0 L1027.0 382.6 L1028.0 382.1 L1029.0 381.7 L1030.0 381.3 L1031.0 380.9 L1032.0 380.5 L1033.0 380.0 L1034.0 379.5 L1034.4 379.3 L1035.0 379.1 L1036.0 378.6 L1037.0 378.1 L1038.0 377.6 L1039.0 377.0 L1040.0 376.5 L1041.0 376.0 L1042.0 375.4 L1043.0 374.9 L1044.0 374.4 L1045.0 373.8 L1046.0 373.3 L1046.4 373.1 L1047.0 372.8 L1048.0 372.3 L1049.0 371.8 L1050.0 371.3 L1051.0 370.8 L1052.0 370.4 L1053.0 369.9 L1054.0 369.4 L1055.0 368.9 L1056.0 368.5 L1057.0 368.0 L1058.0 367.5 L1058.3 367.4 L1059.0 367.1 L1060.0 366.6 L1061.0 366.2 L1062.0 365.8 L1063.0 365.3 L1064.0 364.9 L1065.0 364.5 L1066.0 364.1 L1067.0 363.7 L1068.0 363.3 L1069.0 362.9 L1070.0 362.5 L1070.3 362.3 L1071.0 362.1 L1072.0 361.7 L1073.0 361.4 L1074.0 361.0 L1075.0 360.7 L1076.0 360.3 L1077.0 360.0 L1078.0 359.6 L1079.0 359.3 L1080.0 359.0 L1081.0 358.7 L1082.0 358.4 L1082.3 358.3 L1083.0 358.1 L1084.0 357.8 L1085.0 357.5 L1086.0 357.2 L1087.0 356.9 L1088.0 356.6 L1089.0 356.3 L1090.0 356.0 L1091.0 355.8 L1092.0 355.5 L1093.0 355.2 L1094.0 355.0 L1094.2 354.9 L1095.0 354.7 L1096.0 354.5 L1097.0 354.3 L1098.0 354.0 L1099.0 353.8 L1100.0 353.6 L1101.0 353.3 L1102.0 353.1 L1103.0 352.9 L1104.0 352.7 L1105.0 352.5 L1106.0 352.3 L1106.2 352.3 L1107.0 352.2 L1108.0 352.0 L1109.0 351.8 L1110.0 351.6 L1111.0 351.4 L1112.0 351.3 L1113.0 351.2 L1114.0 351.1 L1114.6 351.1 L1115.0 351.1 L1116.0 351.6 L1117.0 352.3 L1118.0 353.3 L1119.0 354.3 L1120.0 355.1 L1121.0 355.7 L1121.7 355.9 L1122.0 355.9 L1123.0 355.7 L1124.0 355.4 L1125.0 355.0 L1126.0 354.4 L1127.0 353.9 L1128.0 353.3 L1129.0 352.8 L1130.0 352.4 L1130.1 352.3 L1131.0 352.0 L1132.0 351.6 L1133.0 351.2 L1134.0 350.9 L1135.0 350.5 L1136.0 350.2 L1137.0 350.0 L1138.0 349.9 L1138.5 349.9 L1139.0 349.9 L1140.0 350.0 L1141.0 350.0 L1142.0 350.1 L1142.1 350.1 L1143.0 350.4 L1144.0 351.0 L1145.0 351.9 L1146.0 352.7 L1147.0 353.5 L1148.0 354.1 L1148.8 354.2 L1149.0 354.2 L1150.0 354.0 L1151.0 353.5 L1152.0 352.8 L1153.0 351.9 L1154.0 350.7 L1154.0 350.6" stroke="#00f" stroke-width="2" fill="none" stroke-linejoin="round" shape-rendering="crispEdges"/>
<path d="M166.0 338.2 L167.0 338.0 L168.0 337.6 L169.0 337.2 L169.4 337.0 L170.0 336.6 L171.0 335.7 L172.0 334.9 L172.5 334.8 L173.0 334.9 L174.0 335.5 L175.0 336.1 L175.7 336.4 L176.0 336.4 L177.0 336.4 L178.0 336.4 L179.0 336.4 L180.0 336.4 L180.4 336.4 L181.0 336.4 L182.0 336.5 L183.0 336.6 L184.0 336.8 L185.0 336.9 L185.9 337.0 L186.0 337.0 L187.0 336.5 L188.0 335.7 L189.0 334.8 L189.0 334.8 L190.0 334.0 L191.0 333.2 L191.8 332.9 L192.0 332.9 L193.0 334.0 L194.0 335.9 L195.0 337.3 L195.3 337.5 L196.0 337.2 L197.0 336.2 L198.0 334.9 L199.0 333.6 L200.0 332.8 L200.0 332.7 L201.0 332.5 L202.0 332.3 L203.0 332.0 L203.1 332.0 L204.0 331.5 L205.0 330.8 L206.0 329.9 L207.0 329.2 L207.1 329.1 L208.0 328.6 L209.0 328.2 L210.0 327.7 L211.0 327.3 L212.0 326.8 L213.0 326.2 L213.3 326.0 L214.0 325.5 L215.0 324.4 L216.0 323.1 L217.0 321.8 L218.0 320.5 L219.0 319.5 L220.0 319.0 L220.4 318.9 L221.0 318.9 L222.0 318.9 L223.0 318.9 L224.0 318.9 L225.0 318.9 L225.1 318.9 L226.0 318.8 L227.0 318.4 L228.0 317.8 L229.0 317.1 L230.0 316.4 L230.6 316.0 L231.0 315.7 L232.0 315.0 L233.0 314.2 L234.0 313.4 L235.0 312.6 L236.0 311.9 L237.0 311.4 L238.0 311.1 L238.4 311.1 L239.0 311.1 L240.0 311.3 L241.0 311.4 L242.0 311.6 L242.4 311.6 L243.0 311.4 L244.0 310.7 L245.0 309.7 L245.5 309.2 L246.0 308.7 L247.0 307.5 L248.0 306.1 L249.0 304.6 L250.0 303.2 L251.0 301.9 L251.0 301.8 L252.0 300.7 L253.0 299.6 L254.0 298.5 L255.0 297.5 L256.0 296.5 L257.0 295.4 L257.3 295.1 L258.0 294.3 L259.0 293.1 L260.0 291.8 L261.0 290.7 L262.0 289.6 L263.0 288.7 L263.5 288.4 L264.0 288.1 L265.0 287.7 L266.0 287.3 L267.0 287.0 L267.5 286.8 L268.0 286.6 L269.0 286.3 L270.0 286.0 L270.6 285.7 L271.0 285.5 L272.0 284.8 L273.0 284.0 L274.0 283.1 L275.0 282.2 L276.0 281.3 L277.0 280.4 L277.6 279.9 L278.0 279.7 L279.0 279.0 L280.0 278.4 L281.0 277.9 L282.0 277.3 L283.0 276.7 L284.0 276.1 L284.7 275.5 L285.0 275.3 L286.0 274.4 L287.0 273.4 L288.0 272.3 L289.0 271.1 L290.0 269.9 L291.0 268.6 L291.8 267.6 L292.0 267.4 L293.0 266.1 L294.0 264.7 L295.0 263.2 L296.0 261.8 L297.0 260.4 L298.0 259.0 L298.8 257.9 L299.0 257.8 L300.0 256.6 L301.0 255.5 L302.0 254.4 L303.0 253.4 L304.0 252.3 L305.0 251.3 L305.9 250.4 L306.0 250.3 L307.0 249.3 L308.0 248.3 L309.0 247.4 L310.0 246.4 L311.0 245.5 L312.0 244.6 L312.0 244.6 L313.0 243.7 L314.0 242.8 L314.5 242.2 L315.0 241.7 L316.0 240.1 L317.0 238.6 L317.0 238.6 L318.0 237.4 L319.0 236.2 L320.0 235.0 L321.0 233.9 L322.0 232.8 L322.6 232.0 L323.0 231.6 L324.0 230.4 L325.0 229.1 L326.0 227.9 L327.0 226.7 L328.0 225.5 L328.9 224.5 L329.0 224.4 L330.0 223.5 L331.0 222.6 L332.0 221.7 L332.7 221.1 L333.0 220.8 L334.0 219.8 L335.0 218.8 L336.0 217.8 L337.0 216.8 L338.0 215.8 L339.0 214.8 L340.0 213.8 L340.2 213.5 L341.0 212.7 L342.0 211.6 L343.0 210.6 L344.0 209.4 L345.0 208.3 L346.0 207.2 L347.0 206.2 L348.0 205.1 L349.0 204.1 L349.6 203.5 L350.0 203.1 L351.0 202.2 L352.0 201.3 L353.0 200.5 L354.0 199.6 L355.0 198.8 L356.0 197.9 L357.0 197.1 L358.0 196.2 L359.0 195.4 L359.0 195.3 L360.0 194.5 L361.0 193.6 L362.0 192.7 L363.0 191.8 L364.0 190.9 L364.7 190.3 L365.0 190.0 L366.0 189.1 L367.0 188.2 L368.0 187.2 L369.0 186.2 L370.0 185.2 L371.0 184.3 L372.0 183.3 L373.0 182.3 L374.0 181.3 L375.0 180.3 L376.0 179.3 L377.0 178.3 L378.0 177.3 L379.0 176.3 L380.0 175.4 L381.0 174.4 L382.0 173.5 L383.0 172.6 L384.0 171.7 L385.0 170.9 L385.3 170.6 L386.0 170.0 L387.0 169.2 L388.0 168.4 L389.0 167.6 L390.0 166.8 L391.0 166.0 L392.0 165.2 L393.0 164.5 L394.0 163.7 L395.0 163.0 L396.0 162.2 L397.0 161.5 L398.0 160.8 L399.0 160.0 L400.0 159.3 L401.0 158.6 L402.0 157.9 L403.0 157.3 L404.0 156.6 L404.1 156.5 L405.0 155.9 L406.0 155.2 L407.0 154.6 L408.0 153.9 L409.0 153.3 L410.0 152.6 L411.0 152.0 L412.0 151.4 L413.0 150.7 L414.0 150.1 L415.0 149.5 L416.0 148.9 L417.0 148.3 L418.0 147.7 L419.0 147.1 L420.0 146.5 L421.0 146.0 L422.0 145.4 L422.9 144.9 L423.0 144.9 L424.0 144.3 L425.0 143.7 L426.0 143.2 L427.0 142.7 L428.0 142.1 L429.0 141.6 L430.0 141.0 L431.0 140.5 L432.0 140.0 L433.0 139.5 L434.0 139.0 L435.0 138.5 L436.0 138.0 L437.0 137.5 L438.0 137.1 L439.0 136.6 L440.0 136.2 L441.0 135.8 L441.8 135.5 L442.0 135.4 L443.0 135.0 L444.0 134.6 L445.0 134.2 L446.0 133.8 L447.0 133.4 L448.0 133.0 L449.0 132.6 L450.0 132.3 L451.0 131.9 L452.0 131.6 L453.0 131.2 L454.0 130.9 L455.0 130.6 L456.0 130.3 L457.0 130.0 L458.0 129.8 L459.0 129.5 L460.0 129.3 L460.6 129.2 L461.0 129.1 L462.0 128.9 L463.0 128.7 L464.0 128.5 L465.0 128.4 L466.0 128.2 L467.0 128.0 L468.0 127.9 L469.0 127.8 L470.0 127.6 L471.0 127.5 L472.0 127.4 L473.0 127.3 L473.1 127.3 L474.0 127.2 L475.0 127.1 L476.0 127.0 L477.0 126.9 L478.0 126.9 L479.0 126.8 L480.0 126.7 L481.0 126.7 L482.0 126.7 L482.5 126.7 L483.0 126.7 L484.0 126.7 L485.0 126.7 L486.0 126.8 L487.0 126.8 L488.0 126.9 L489.0 127.0 L490.0 127.1 L491.0 127.2 L492.0 127.3 L493.0 127.4 L494.0 127.5 L495.0 127.7 L496.0 127.9 L497.0 128.1 L498.0 128.3 L499.0 128.5 L500.0 128.8 L501.0 129.0 L502.0 129.3 L503.0 129.6 L504.0 129.9 L505.0 130.2 L506.0 130.5 L507.0 130.8 L508.0 131.1 L509.0 131.4 L510.0 131.7 L510.8 132.0" stroke="#0f0" stroke-width="2" fill="none" stroke-linejoin="round" shape-rendering="crispEdges"/>
<rect x="165.5" y="103.5" width="989.0" height="313.0" fill="none" stroke="#262626" stroke-width="1.2"/>
<text class="tk" x="157.2" y="109.7" text-anchor="end">30000</text>
<text class="tk" x="157.2" y="172.3" text-anchor="end">20000</text>
<text class="tk" x="157.2" y="234.9" text-anchor="end">10000</text>
<text class="tk" x="157.2" y="297.5" text-anchor="end">0</text>
<text class="tk" x="157.2" y="360.1" text-anchor="end">-10000</text>
<text class="tk" x="157.2" y="422.7" text-anchor="end">-20000</text>
<text class="yl" transform="translate(44.0 260.2) rotate(-90)" text-anchor="middle">CRF Coordinates</text>
<text class="yl" transform="translate(70.2 260.2) rotate(-90)" text-anchor="middle">BX (nT)</text>
<text class="lg" transform="translate(1176.4 292.4) rotate(-90)">Inboard B</text>
<text class="lg" transform="translate(1196.2 292.4) rotate(-90)">Outboard B</text>
<text class="lg" transform="translate(1215.2 292.4) rotate(-90)">Model B</text>
<path d="M1171.9 315 V336" stroke="#00f" stroke-width="2"/><path d="M1191 319 V336" stroke="#0f0" stroke-width="2"/><path d="M1211 319 V336" stroke="#f00" stroke-width="2"/>
</g>
<g id="plot2">
<path d="M412.75 453.5 v10 M412.75 756.5 v-10 M660.00 453.5 v10 M660.00 756.5 v-10 M907.25 453.5 v10 M907.25 756.5 v-10 M165.5 514.10 h10 M1154.5 514.10 h-10 M165.5 574.70 h10 M1154.5 574.70 h-10 M165.5 635.30 h10 M1154.5 635.30 h-10 M165.5 695.90 h10 M1154.5 695.90 h-10" stroke="#262626" stroke-width="1.2" fill="none"/>
<rect x="167" y="456" width="14" height="297" fill="#d9d9d9"/>
<rect x="181" y="456" width="1" height="297" fill="#ffb3ff"/>
<rect x="183" y="456" width="1" height="297" fill="#ffb3ff"/>
<rect x="184" y="456" width="42" height="297" fill="#d9d9d9"/>
<rect x="228" y="456" width="1" height="297" fill="#ffb3ff"/>
<rect x="230" y="456" width="1" height="297" fill="#ffb3ff"/>
<rect x="231" y="456" width="11" height="297" fill="#d9d9d9"/>
<rect x="246" y="456" width="2" height="297" fill="#d9d9d9"/>
<rect x="255" y="456" width="1" height="297" fill="#ffb3ff"/>
<rect x="257" y="456" width="1" height="297" fill="#ffb3ff"/>
<rect x="264" y="456" width="2" height="297" fill="#d9d9d9"/>
<rect x="271" y="456" width="1" height="297" fill="#d9d9d9"/>
<rect x="284" y="456" width="1" height="297" fill="#ffb3ff"/>
<rect x="289" y="456" width="4" height="297" fill="#d9d9d9"/>
<rect x="297" y="456" width="2" height="297" fill="#d9d9d9"/>
<rect x="304" y="456" width="3" height="297" fill="#d9d9d9"/>
<rect x="317" y="456" width="1" height="297" fill="#d9d9d9"/>
<rect x="332" y="456" width="1" height="297" fill="#d9d9d9"/>
<rect x="684" y="456" width="4" height="297" fill="#d9d9d9"/>
<rect x="692" y="456" width="6" height="297" fill="#d9d9d9"/>
<rect x="700" y="456" width="3" height="297" fill="#d9d9d9"/>
<rect x="718" y="456" width="3" height="297" fill="#d9d9d9"/>
<rect x="730" y="456" width="2" height="297" fill="#d9d9d9"/>
<rect x="746" y="456" width="1" height="297" fill="#ffb3ff"/>
<rect x="747" y="456" width="1" height="297" fill="#d9d9d9"/>
<rect x="748" y="456" width="1" height="297" fill="#ffb3ff"/>
<rect x="749" y="456" width="1" height="297" fill="#e6e6e6"/>
<rect x="754" y="456" width="1" height="297" fill="#d9d9d9"/>
<rect x="757" y="456" width="3" height="297" fill="#d9d9d9"/>
<rect x="813" y="456" width="8" height="297" fill="#d9d9d9"/>
<rect x="824" y="456" width="2" height="297" fill="#d9d9d9"/>
<rect x="855" y="456" width="8" height="297" fill="#d9d9d9"/>
<rect x="1000" y="456" width="1" height="297" fill="#d9d9d9"/>
<rect x="1007" y="456" width="2" height="297" fill="#d9d9d9"/>
<rect x="1015" y="456" width="18" height="297" fill="#d9d9d9"/>
<rect x="1111" y="456" width="42" height="297" fill="#d9d9d9"/>
<path d="M167.0 525.1 L167.8 524.7 L168.0 524.8 L169.0 527.8 L170.0 533.1 L171.0 537.2 L171.0 537.3 L172.0 539.0 L173.0 540.5 L173.3 541.2 L174.0 543.3 L175.0 548.3 L176.0 552.3 L176.5 553.0 L177.0 551.7 L178.0 544.7 L179.0 539.0 L179.1 538.9 L180.0 539.4 L181.0 540.8 L182.0 542.3 L182.7 542.8 L183.0 542.6 L184.0 538.8 L185.0 532.8 L186.0 528.4 L186.4 527.9 L187.0 528.3 L188.0 530.4 L189.0 533.3 L190.0 536.0 L191.0 537.3 L191.1 537.3 L192.0 535.0 L193.0 528.6 L194.0 520.4 L195.0 512.8 L196.0 508.0 L196.4 507.5 L197.0 508.8 L198.0 515.1 L199.0 521.4 L199.5 522.7 L200.0 522.3 L201.0 519.3 L202.0 514.5 L203.0 509.8 L204.0 506.7 L204.4 506.4 L205.0 507.7 L206.0 513.5 L207.0 517.6 L207.1 517.7 L208.0 516.5 L209.0 513.0 L210.0 508.5 L211.0 504.2 L212.0 501.3 L212.5 500.7 L213.0 501.5 L214.0 507.4 L215.0 512.7 L215.2 513.0 L216.0 512.3 L217.0 509.6 L218.0 505.8 L219.0 502.0 L220.0 499.1 L220.9 498.1 L221.0 498.1 L222.0 501.8 L223.0 507.1 L223.5 508.3 L224.0 508.2 L225.0 507.7 L226.0 506.7 L227.0 505.5 L228.0 504.1 L229.0 502.8 L230.0 501.7 L231.0 501.0 L231.8 500.7 L232.0 500.8 L233.0 505.4 L234.0 513.4 L235.0 519.2 L235.3 519.7 L236.0 519.5 L237.0 518.8 L238.0 518.1 L238.4 518.0 L239.0 518.1 L240.0 518.8 L241.0 519.5 L241.6 519.7 L242.0 519.6 L243.0 518.9 L244.0 517.7 L245.0 516.5 L246.0 515.8 L246.3 515.8 L247.0 516.0 L248.0 516.9 L249.0 517.8 L250.0 518.4 L250.2 518.5 L251.0 518.4 L252.0 518.0 L253.0 517.4 L254.0 516.8 L255.0 516.1 L256.0 515.4 L257.0 515.0 L257.3 514.9 L258.0 514.6 L259.0 514.3 L260.0 514.0 L261.0 513.8 L262.0 513.8 L262.0 513.8 L263.0 514.2 L264.0 515.2 L265.0 516.3 L266.0 517.1 L266.7 517.4 L267.0 517.4 L268.0 517.2 L269.0 517.1 L270.0 516.9 L270.6 516.9 L271.0 517.0 L272.0 518.2 L273.0 519.6 L273.7 520.0 L274.0 520.0 L275.0 519.8 L276.0 519.2 L277.0 518.5 L278.0 517.8 L279.0 517.1 L280.0 516.6 L280.8 516.4 L281.0 516.4 L282.0 516.3 L283.0 516.2 L284.0 516.2 L285.0 516.1 L285.5 516.1 L286.0 516.2 L287.0 517.2 L288.0 518.9 L289.0 520.8 L289.4 521.6 L290.0 522.8 L291.0 525.4 L292.0 528.4 L293.0 531.0 L293.3 531.8 L294.0 532.9 L295.0 534.4 L296.0 535.7 L297.0 537.1 L298.0 538.7 L298.0 538.9 L299.0 540.9 L300.0 543.4" stroke="#f00" stroke-width="2" fill="none" stroke-linejoin="round" shape-rendering="crispEdges"/>
<path d="M301.2 543.5 L302.2 544.3 L303.2 544.9 L304.2 545.5 L305.2 545.8 L305.9 545.9 L306.2 545.9 L307.2 545.9 L308.2 545.9 L309.2 545.9 L310.2 545.9 L310.6 545.9 L311.2 545.7 L312.2 544.8 L313.2 544.0 L313.7 543.8 L314.2 544.1 L315.2 545.6 L316.2 547.3 L316.9 547.8 L317.2 547.8 L318.2 547.8 L319.2 547.8 L319.2 547.8 L320.2 548.3 L321.2 549.6 L322.2 551.2 L323.1 552.5 L323.2 552.5 L324.2 553.6 L325.2 554.7 L326.2 555.9 L327.2 557.0 L328.2 557.9 L329.2 558.6 L330.2 559.1 L331.0 559.2 L331.2 559.2 L332.2 558.8 L333.2 558.2 L334.1 558.0 L334.2 558.0 L335.2 558.1 L336.2 558.6 L337.2 559.4 L338.2 560.4 L338.8 561.3" stroke="#f00" stroke-width="2" fill="none" stroke-linejoin="round" shape-rendering="crispEdges"/>
<path d="M340.0 562.8 L341.0 563.4 L342.0 564.0 L343.0 564.6 L344.0 565.3 L345.0 566.0 L346.0 566.7 L347.0 567.4 L348.0 568.2 L348.2 568.4 L349.0 569.1 L350.0 570.1 L350.0 570.2 L351.0 571.1 L352.0 571.9 L353.0 572.7 L354.0 573.6 L355.0 574.4 L356.0 575.2 L357.0 576.0 L358.0 576.9 L358.8 577.7 L359.0 577.9 L360.0 579.1 L361.0 580.6 L362.0 582.0 L363.0 582.9 L363.8 583.3 L364.0 583.3 L365.0 582.9" stroke="#f00" stroke-width="2" fill="none" stroke-linejoin="round" shape-rendering="crispEdges"/>
<path d="M616.1 632.9 L617.1 633.1 L618.1 633.3 L619.1 633.6 L620.1 633.8 L621.1 634.1 L622.1 634.3 L623.1 634.6 L624.1 634.8 L625.1 635.1 L626.1 635.4 L626.1 635.4 L627.1 635.6 L628.1 635.9 L629.1 636.2 L630.1 636.5 L631.1 636.8 L632.1 637.1 L633.1 637.4 L634.1 637.7 L635.1 638.0 L636.1 638.4 L636.2 638.4 L637.1 638.7 L638.1 639.1 L639.1 639.5 L640.1 639.9 L641.1 640.4 L642.1 640.8 L643.1 641.2 L644.1 641.6 L645.1 642.0 L646.1 642.4 L646.2 642.4 L647.1 642.7 L648.1 643.0 L649.1 643.4 L650.1 643.7 L651.1 644.0 L652.1 644.3 L653.1 644.6 L654.1 644.9 L655.1 645.1 L656.1 645.4 L656.3 645.4" stroke="#f00" stroke-width="2" fill="none" stroke-linejoin="round" shape-rendering="crispEdges"/>
<path d="M640.0 639.8 L641.0 640.3 L642.0 640.8 L643.0 641.3 L644.0 641.8 L645.0 642.2 L646.0 642.7 L647.0 643.1 L648.0 643.5 L649.0 643.9 L649.4 644.1 L650.0 644.3 L651.0 644.7 L652.0 645.0 L653.0 645.4 L654.0 645.7 L655.0 646.0 L656.0 646.4 L657.0 646.7 L658.0 647.0 L658.8 647.3 L659.0 647.4 L660.0 647.7 L661.0 648.1 L662.0 648.4 L663.0 648.8 L664.0 649.1 L665.0 649.5 L666.0 649.8 L667.0 650.1 L668.0 650.4 L668.2 650.5 L669.0 650.7 L670.0 651.0 L671.0 651.2 L672.0 651.5 L673.0 651.7 L674.0 652.0 L675.0 652.2 L676.0 652.5 L677.0 652.8 L677.6 652.9 L678.0 653.0 L679.0 653.4 L680.0 653.8 L681.0 654.3 L682.0 654.7 L683.0 655.0 L684.0 655.3 L685.0 655.4 L685.2 655.4 L686.0 655.3 L687.0 655.0 L688.0 654.8 L689.0 655.1 L690.0 655.7 L691.0 656.5 L692.0 657.2 L693.0 657.6 L693.3 657.6 L694.0 657.3 L695.0 656.1 L696.0 654.6 L697.0 653.6 L697.4 653.5 L698.0 653.7 L699.0 654.8 L700.0 656.5 L701.0 658.1 L702.0 659.4 L702.1 659.5 L703.0 660.2 L704.0 660.8 L705.0 661.4 L705.9 661.8 L706.0 661.8 L707.0 662.3 L708.0 662.7 L709.0 663.0 L710.0 663.4 L711.0 663.7 L712.0 664.0 L713.0 664.3 L714.0 664.7 L715.0 665.1 L715.3 665.2 L716.0 665.5 L717.0 665.9 L718.0 666.4 L719.0 666.9 L720.0 667.4 L721.0 667.8 L722.0 668.2 L722.8 668.6 L723.0 668.6 L724.0 668.9 L725.0 669.2 L726.0 669.4 L727.0 669.6 L728.0 669.9 L729.0 670.2 L730.0 670.6 L730.4 670.8 L731.0 671.5 L732.0 673.0 L733.0 674.0 L733.2 674.0 L734.0 674.0 L735.0 674.0 L736.0 673.9 L737.0 673.8 L738.0 673.7 L739.0 673.7 L739.8 673.6 L740.0 673.7 L741.0 673.8 L742.0 674.0 L743.0 674.4 L744.0 674.9 L745.0 675.3 L745.4 675.5 L746.0 675.9 L747.0 676.8 L748.0 677.9 L749.0 679.2 L750.0 680.4 L751.0 681.5 L752.0 682.3 L752.9 682.7 L753.0 682.7 L754.0 682.8 L755.0 683.0 L756.0 683.0 L756.7 683.1 L757.0 683.0 L758.0 682.5 L759.0 681.7 L760.0 681.1 L760.5 681.0 L761.0 681.1 L762.0 681.9 L763.0 683.1 L764.0 684.3 L765.0 685.4 L766.0 685.9 L766.1 685.9 L767.0 685.8 L768.0 685.5 L769.0 685.1 L770.0 684.6 L771.0 684.2 L771.8 684.0 L772.0 683.9 L773.0 683.7 L774.0 683.4 L775.0 683.1 L776.0 682.9 L777.0 682.7 L778.0 682.6 L779.0 682.5 L779.3 682.5 L780.0 682.5 L781.0 682.5 L782.0 682.5 L783.0 682.5 L784.0 682.5 L785.0 682.5 L786.0 682.6 L787.0 682.6 L788.0 682.6 L789.0 682.6 L790.0 682.7 L790.6 682.7 L791.0 682.7 L792.0 682.8 L793.0 683.0 L794.0 683.2 L795.0 683.5 L796.0 683.8 L797.0 684.1 L798.0 684.3 L798.1 684.4 L799.0 684.7 L800.0 685.1 L801.0 685.4 L801.9 685.5 L802.0 685.5 L803.0 685.4 L804.0 685.0 L805.0 684.6 L806.0 684.3 L807.0 684.0 L807.5 684.0 L808.0 684.0 L809.0 684.4 L810.0 685.0 L811.0 685.7 L812.0 686.5 L813.0 687.1 L814.0 687.4 L814.1 687.4 L815.0 687.5 L816.0 687.5 L817.0 687.6 L818.0 687.6 L819.0 687.6 L820.0 687.7 L821.0 687.7 L821.6 687.8 L822.0 687.8 L823.0 688.0 L824.0 688.3 L825.0 688.7 L826.0 689.2 L827.0 689.8 L828.0 690.4 L829.0 691.1 L830.0 691.8 L830.1 691.9" stroke="#f00" stroke-width="2" fill="none" stroke-linejoin="round" shape-rendering="crispEdges"/>
<path d="M830.1 691.7 L831.0 692.2 L832.0 692.8 L833.0 693.5 L834.0 694.2 L835.0 694.9 L836.0 695.6 L837.0 696.4 L838.0 697.1 L839.0 697.8 L839.5 698.2 L840.0 698.6 L841.0 699.3 L842.0 700.0 L843.0 700.8 L844.0 701.5 L845.0 702.3 L846.0 703.0 L847.0 703.8 L847.1 703.9 L848.0 704.6 L849.0 705.6 L850.0 706.7 L851.0 707.7 L852.0 708.7 L853.0 709.6 L854.0 710.2 L855.0 710.7 L855.9 710.9 L856.0 710.8" stroke="#f00" stroke-width="2" fill="none" stroke-linejoin="round" shape-rendering="crispEdges"/>
<path d="M500.0 633.9 L500.6 633.9 L501.0 633.9 L502.0 633.9 L503.0 633.9 L504.0 633.9 L505.0 633.9 L506.0 633.9 L507.0 633.9 L508.0 633.9 L509.0 633.9 L510.0 633.9 L511.0 633.9 L512.0 633.9 L513.0 633.9 L514.0 633.9 L515.0 633.9 L515.7 633.9 L516.0 633.9 L517.0 633.9 L518.0 633.8 L519.0 633.8 L520.0 633.8 L521.0 633.7 L522.0 633.6 L523.0 633.6 L524.0 633.5 L525.0 633.4 L525.7 633.4 L526.0 633.4 L527.0 633.3 L528.0 633.2 L529.0 633.1 L530.0 632.9 L531.0 632.8 L532.0 632.7 L533.0 632.5 L534.0 632.4 L535.0 632.2 L536.0 632.1 L537.0 631.9 L538.0 631.8 L539.0 631.6 L540.0 631.5 L540.8 631.4 L541.0 631.3 L542.0 631.2 L543.0 631.1 L544.0 631.0 L545.0 630.8 L546.0 630.7 L547.0 630.6 L548.0 630.5 L549.0 630.3 L550.0 630.2 L551.0 630.1 L552.0 630.0 L553.0 629.9 L554.0 629.8 L555.0 629.7 L555.9 629.6 L556.0 629.6 L557.0 629.5 L558.0 629.4 L559.0 629.3 L560.0 629.2 L561.0 629.1 L562.0 629.0 L563.0 629.0 L564.0 628.9 L565.0 628.9 L565.9 628.9 L566.0 628.9 L567.0 628.9 L568.0 628.9 L569.0 628.9 L570.0 628.9 L571.0 628.9 L572.0 628.9 L573.0 628.9 L574.0 628.9 L575.0 628.9 L576.0 628.9 L577.0 628.9 L578.0 628.9 L579.0 628.9 L580.0 628.9 L581.0 628.9 L581.0 628.9 L582.0 628.9 L583.0 628.9 L584.0 628.9 L585.0 628.9 L586.0 628.9 L587.0 628.9 L588.0 628.9 L589.0 628.9 L590.0 628.9 L591.0 629.0 L592.0 629.0 L593.0 629.0 L594.0 629.0 L595.0 629.1 L596.0 629.1 L596.0 629.1 L597.0 629.2 L598.0 629.3 L599.0 629.5 L600.0 629.7 L601.0 629.9 L602.0 630.1 L603.0 630.4 L604.0 630.7 L605.0 630.9 L606.0 631.1 L606.1 631.1 L607.0 631.3 L608.0 631.5 L609.0 631.6 L610.0 631.8 L611.0 632.0 L612.0 632.1 L613.0 632.3 L614.0 632.5 L615.0 632.7 L616.0 632.8 L616.1 632.9 L617.0 633.0 L618.0 633.3 L619.0 633.5 L620.0 633.8 L621.0 634.1 L622.0 634.3 L623.0 634.5 L624.0 634.7 L625.0 634.8 L626.0 634.9 L626.1 634.9 L627.0 634.8 L628.0 634.7 L629.0 634.6 L630.0 634.5 L631.0 634.4 L631.2 634.4 L632.0 634.4 L633.0 634.4 L634.0 634.4 L635.0 634.4 L636.0 634.4 L637.0 634.4 L637.4 634.4 L638.0 634.4 L639.0 634.5 L640.0 634.7 L641.0 635.0 L642.0 635.4 L643.0 635.8 L643.7 636.1 L644.0 636.3 L645.0 637.5 L646.0 639.3 L647.0 641.2 L648.0 642.6 L648.5 643.0 L649.0 643.1 L650.0 643.4 L651.0 643.6 L652.0 643.8 L653.0 644.0 L653.2 644.1 L654.0 644.3 L655.0 644.5 L656.0 644.7 L657.0 645.0 L657.9 645.4 L658.0 645.5 L659.0 647.5 L660.0 650.0 L660.3 650.5 L661.0 650.9 L662.0 651.3 L663.0 651.7 L664.0 652.0 L665.0 652.2 L666.0 652.5 L667.0 652.7 L668.0 652.9 L668.2 652.9 L669.0 653.1 L670.0 653.3 L671.0 653.5 L672.0 653.7 L673.0 653.8 L674.0 654.0 L675.0 654.2 L675.8 654.4 L676.0 654.5 L677.0 654.9 L678.0 655.4 L679.0 655.9 L680.0 656.4 L681.0 656.9 L682.0 657.3 L683.0 657.6 L683.7 657.6 L684.0 657.6 L685.0 657.4 L686.0 657.1 L687.0 656.8 L688.0 656.7 L688.0 656.7 L689.0 657.0 L690.0 657.6 L691.0 658.4 L692.0 659.1 L693.0 659.5 L693.3 659.5 L694.0 659.2 L695.0 657.8 L696.0 656.2 L697.0 655.0 L697.4 654.8 L698.0 655.0 L699.0 656.2 L700.0 658.0 L701.0 659.9 L702.0 661.3 L702.1 661.4 L703.0 662.1 L704.0 662.7 L705.0 663.2 L705.9 663.7 L706.0 663.7 L707.0 664.1 L708.0 664.5 L709.0 664.9 L710.0 665.2 L711.0 665.6 L712.0 665.9 L713.0 666.2 L714.0 666.6 L715.0 666.9 L715.3 667.1 L716.0 667.3 L717.0 667.8 L718.0 668.3 L719.0 668.7 L720.0 669.2 L721.0 669.7 L722.0 670.1 L722.8 670.4 L723.0 670.5 L724.0 670.8 L725.0 671.1 L726.0 671.3 L727.0 671.5 L728.0 671.8 L729.0 672.1 L730.0 672.5 L730.4 672.7 L731.0 673.3 L732.0 674.8 L733.0 675.9 L733.2 675.9 L734.0 675.9 L735.0 675.8 L736.0 675.8 L737.0 675.7 L738.0 675.6 L739.0 675.5 L739.8 675.5 L740.0 675.5 L741.0 675.7 L742.0 675.9 L743.0 676.3 L744.0 676.7 L745.0 677.2 L745.4 677.4 L746.0 677.7 L747.0 678.7 L748.0 679.9 L749.0 681.2 L750.0 682.4 L751.0 683.5 L752.0 684.3 L752.9 684.6 L753.0 684.6 L754.0 684.6 L755.0 684.6 L756.0 684.6 L756.7 684.6 L757.0 684.5 L758.0 684.0 L759.0 683.2 L760.0 682.6 L760.5 682.5 L761.0 682.6 L762.0 683.2 L763.0 684.3 L764.0 685.4 L765.0 686.4 L766.0 686.8 L766.1 686.8 L767.0 686.7 L768.0 686.4 L769.0 685.8 L770.0 685.0 L770.8 684.0 L771.0 683.6 L772.0 677.2 L772.1 676.8 L773.0 676.9 L774.0 676.9 L775.0 677.0 L775.5 677.0 L776.0 677.1 L777.0 677.4 L778.0 677.8 L779.0 678.4 L780.0 678.9 L781.0 679.5 L782.0 679.9 L783.0 680.2 L783.1 680.2 L784.0 680.4 L785.0 680.5 L786.0 680.6 L787.0 680.7 L788.0 680.7 L789.0 680.8 L790.0 680.9 L791.0 681.0 L792.0 681.1 L792.5 681.2 L793.0 681.3 L794.0 681.6 L795.0 682.0 L796.0 682.6 L797.0 683.1 L798.0 683.7 L799.0 684.2 L800.0 684.6 L801.0 684.9 L801.9 684.9 L802.0 684.9 L803.0 684.8 L804.0 684.5 L805.0 684.1 L806.0 683.7 L807.0 683.5 L807.5 683.4 L808.0 683.5 L809.0 683.8 L810.0 684.5 L811.0 685.2 L812.0 686.0 L813.0 686.5 L814.0 686.8 L814.1 686.8 L815.0 686.8 L816.0 686.8 L817.0 686.8 L818.0 686.8 L819.0 686.8 L820.0 686.8 L821.0 686.8 L821.6 686.8 L822.0 686.8 L823.0 687.0 L824.0 687.3 L825.0 687.8 L826.0 688.4 L827.0 689.1 L828.0 689.7 L829.0 690.4 L830.0 691.1 L830.1 691.2 L831.0 691.7 L832.0 692.3 L833.0 693.0 L834.0 693.7 L835.0 694.4 L836.0 695.1 L837.0 695.9 L838.0 696.6 L839.0 697.3 L839.5 697.7 L840.0 698.1 L841.0 698.8 L842.0 699.5 L843.0 700.3 L844.0 701.0 L845.0 701.8 L846.0 702.5 L847.0 703.3 L847.1 703.4 L848.0 704.1 L849.0 705.1 L850.0 706.2 L851.0 707.2 L852.0 708.2 L853.0 709.1 L854.0 709.7 L855.0 710.2 L855.9 710.4 L856.0 710.3 L857.0 707.5 L858.0 702.6 L858.4 700.9 L859.0 698.7 L860.0 695.0 L861.0 692.0 L861.2 691.5 L862.0 690.0 L863.0 688.4 L864.0 687.1 L864.9 686.3 L865.0 686.2 L866.0 685.7 L867.0 685.2 L868.0 684.8 L869.0 684.5 L869.6 684.4 L870.0 684.3 L871.0 684.2 L872.0 684.1 L873.0 684.0 L874.0 683.9 L875.0 683.8 L876.0 683.7 L877.0 683.7 L878.0 683.6 L879.0 683.5 L880.0 683.5 L881.0 683.4 L882.0 683.4 L883.0 683.3 L883.5 683.3 L884.0 683.3 L885.0 683.2 L886.0 683.2 L887.0 683.1 L888.0 683.1 L889.0 683.0 L890.0 683.0 L891.0 682.9 L892.0 682.9 L893.0 682.8 L894.0 682.8 L895.0 682.7 L896.0 682.7 L897.0 682.7 L898.0 682.6 L899.0 682.6 L900.0 682.5 L901.0 682.4 L902.0 682.4 L902.4 682.4 L903.0 682.3 L904.0 682.2 L905.0 682.2 L906.0 682.1 L907.0 682.0 L908.0 681.9 L909.0 681.8 L910.0 681.7 L911.0 681.6 L912.0 681.5 L913.0 681.4 L914.0 681.3 L915.0 681.2 L916.0 681.1 L917.0 681.0 L918.0 680.9 L919.0 680.7 L920.0 680.6 L921.0 680.5 L921.2 680.5 L922.0 680.4 L923.0 680.2 L924.0 680.1 L925.0 679.9 L926.0 679.8 L927.0 679.6 L928.0 679.4 L929.0 679.3 L930.0 679.1 L931.0 678.9 L932.0 678.7 L933.0 678.5 L934.0 678.4 L935.0 678.2 L936.0 678.0 L937.0 677.8 L938.0 677.6 L939.0 677.4 L940.0 677.2 L940.0 677.2 L941.0 677.0 L942.0 676.8 L943.0 676.6 L944.0 676.4 L945.0 676.2 L946.0 675.9 L947.0 675.7 L948.0 675.5 L949.0 675.3 L950.0 675.1 L951.0 674.8 L952.0 674.6 L953.0 674.4 L954.0 674.1 L955.0 673.9 L956.0 673.7 L957.0 673.4 L958.0 673.2 L958.8 672.9 L959.0 672.9 L960.0 672.7 L961.0 672.4 L962.0 672.1 L963.0 671.9 L964.0 671.6 L965.0 671.3 L966.0 671.0 L967.0 670.8 L968.0 670.5 L969.0 670.2 L970.0 669.9 L971.0 669.6 L972.0 669.3 L973.0 669.0 L974.0 668.7 L975.0 668.4 L976.0 668.1 L977.0 667.8 L977.6 667.5 L978.0 667.4 L979.0 667.1 L980.0 666.8 L981.0 666.4 L982.0 666.0 L983.0 665.7 L984.0 665.3 L985.0 664.9 L986.0 664.5 L987.0 664.2 L988.0 663.8 L989.0 663.4 L990.0 663.0 L991.0 662.7 L991.8 662.4 L992.0 662.3 L993.0 661.9 L994.0 661.6 L995.0 661.2 L996.0 660.8 L997.0 660.5 L998.0 660.1 L999.0 659.7 L1000.0 659.3 L1001.0 658.9 L1001.2 658.8 L1002.0 658.5 L1003.0 658.0 L1004.0 657.5 L1005.0 656.9 L1006.0 656.4 L1007.0 655.9 L1008.0 655.4 L1008.2 655.3 L1009.0 655.0 L1010.0 654.6 L1011.0 654.3 L1012.0 654.0 L1013.0 653.6 L1014.0 653.2 L1015.0 652.7 L1015.3 652.5 L1016.0 652.0 L1017.0 651.0 L1018.0 649.7 L1019.0 648.4 L1020.0 647.1 L1020.0 647.1 L1021.0 645.6 L1022.0 643.8 L1023.0 641.9 L1024.0 640.5 L1025.0 639.8 L1025.2 639.8 L1026.0 639.9 L1027.0 640.2 L1028.0 640.7 L1029.0 641.2 L1030.0 641.6 L1030.6 641.6 L1031.0 641.6 L1032.0 641.6 L1033.0 641.4 L1034.0 641.2 L1035.0 640.9 L1036.0 640.6 L1036.5 640.5 L1037.0 640.3 L1038.0 640.0 L1039.0 639.5 L1040.0 639.1 L1041.0 638.5 L1042.0 638.0 L1043.0 637.4 L1044.0 636.7 L1045.0 636.1 L1046.0 635.5 L1047.0 634.9 L1048.0 634.3 L1048.2 634.1 L1049.0 633.7 L1050.0 633.1 L1051.0 632.5 L1052.0 631.9 L1053.0 631.3 L1054.0 630.7 L1055.0 630.1 L1056.0 629.4 L1057.0 628.8 L1058.0 628.2 L1059.0 627.5 L1060.0 626.9 L1061.0 626.3 L1062.0 625.6 L1063.0 625.0 L1064.0 624.3 L1065.0 623.7 L1066.0 623.1 L1067.0 622.4 L1067.1 622.4 L1068.0 621.8 L1069.0 621.1 L1070.0 620.5 L1071.0 619.8 L1072.0 619.2 L1073.0 618.5 L1074.0 617.9 L1075.0 617.2 L1076.0 616.5 L1077.0 615.9 L1078.0 615.2 L1079.0 614.6 L1080.0 613.9 L1081.0 613.3 L1082.0 612.6 L1083.0 612.0 L1084.0 611.3 L1085.0 610.7 L1085.9 610.1 L1086.0 610.1 L1087.0 609.4 L1088.0 608.8 L1089.0 608.2 L1090.0 607.6 L1091.0 607.0 L1092.0 606.4 L1093.0 605.8 L1094.0 605.2 L1095.0 604.6 L1096.0 604.0 L1097.0 603.4 L1098.0 602.8 L1099.0 602.2 L1100.0 601.6 L1101.0 601.0 L1102.0 600.4 L1103.0 599.8 L1104.0 599.3 L1104.7 598.8 L1105.0 598.7 L1106.0 598.2 L1107.0 597.7 L1108.0 597.3 L1109.0 596.9 L1110.0 596.3 L1111.0 595.7 L1112.0 594.9 L1112.2 594.6 L1113.0 593.3 L1114.0 590.1 L1115.0 586.3 L1116.0 582.7 L1116.9 580.5 L1117.0 580.4 L1118.0 579.4 L1119.0 578.6 L1120.0 577.7 L1120.0 577.6 L1121.0 575.9 L1122.0 574.0 L1122.4 573.6 L1123.0 573.4 L1124.0 573.2 L1124.7 572.9 L1125.0 572.7 L1126.0 569.7 L1127.0 565.5 L1128.0 562.8 L1128.2 562.6 L1129.0 563.8 L1130.0 566.9 L1130.6 567.8 L1131.0 567.7 L1132.0 567.3 L1132.9 567.1 L1133.0 567.1 L1134.0 567.6 L1135.0 569.0 L1136.0 570.7 L1137.0 572.4 L1138.0 573.7 L1138.8 574.1 L1139.0 574.1 L1140.0 574.0 L1141.0 573.8 L1142.0 573.6 L1143.0 573.4 L1143.5 573.4 L1144.0 573.6 L1145.0 574.9 L1146.0 576.7 L1147.0 577.6 L1147.1 577.6 L1148.0 577.6 L1149.0 577.5 L1150.0 577.2 L1151.0 576.6 L1152.0 575.7 L1153.0 574.5 L1154.0 572.8 L1154.1 572.5" stroke="#00f" stroke-width="2" fill="none" stroke-linejoin="round" shape-rendering="crispEdges"/>
<path d="M166.0 525.5 L167.0 523.5 L167.8 523.1 L168.0 523.2 L169.0 526.2 L170.0 531.5 L171.0 535.6 L171.0 535.7 L172.0 537.4 L173.0 538.9 L173.3 539.6 L174.0 541.7 L175.0 546.7 L176.0 550.7 L176.5 551.4 L177.0 550.1 L178.0 543.1 L179.0 537.4 L179.1 537.3 L180.0 537.8 L181.0 539.2 L182.0 540.7 L182.7 541.2 L183.0 541.0 L184.0 537.2 L185.0 531.2 L186.0 526.8 L186.4 526.3 L187.0 526.7 L188.0 528.8 L189.0 531.7 L190.0 534.4 L191.0 535.7 L191.1 535.7 L192.0 533.4 L193.0 527.0 L194.0 518.8 L195.0 511.2 L196.0 506.4 L196.4 505.9 L197.0 507.2 L198.0 513.5 L199.0 519.8 L199.5 521.1 L200.0 520.7 L201.0 517.7 L202.0 512.9 L203.0 508.2 L204.0 505.1 L204.4 504.8 L205.0 506.1 L206.0 511.9 L207.0 516.0 L207.1 516.1 L208.0 514.9 L209.0 511.4 L210.0 506.9 L211.0 502.6 L212.0 499.7 L212.5 499.1 L213.0 499.9 L214.0 505.8 L215.0 511.1 L215.2 511.4 L216.0 510.7 L217.0 508.0 L218.0 504.2 L219.0 500.4 L220.0 497.5 L220.9 496.5 L221.0 496.5 L222.0 500.2 L223.0 505.5 L223.5 506.7 L224.0 506.6 L225.0 506.1 L226.0 505.1 L227.0 503.9 L228.0 502.5 L229.0 501.2 L230.0 500.1 L231.0 499.4 L231.8 499.1 L232.0 499.2 L233.0 503.8 L234.0 511.8 L235.0 517.6 L235.3 518.1 L236.0 517.9 L237.0 517.2 L238.0 516.5 L238.4 516.4 L239.0 516.5 L240.0 517.2 L241.0 517.9 L241.6 518.1 L242.0 518.0 L243.0 517.3 L244.0 516.1 L245.0 514.9 L246.0 514.2 L246.3 514.2 L247.0 514.4 L248.0 515.3 L249.0 516.2 L250.0 516.8 L250.2 516.9 L251.0 516.8 L252.0 516.4 L253.0 515.8 L254.0 515.2 L255.0 514.5 L256.0 513.8 L257.0 513.4 L257.3 513.3 L258.0 513.0 L259.0 512.7 L260.0 512.4 L261.0 512.2 L262.0 512.2 L262.0 512.2 L263.0 512.6 L264.0 513.6 L265.0 514.7 L266.0 515.5 L266.7 515.8 L267.0 515.8 L268.0 515.6 L269.0 515.5 L270.0 515.3 L270.6 515.3 L271.0 515.4 L272.0 516.6 L273.0 518.0 L273.7 518.4 L274.0 518.4 L275.0 518.2 L276.0 517.6 L277.0 516.9 L278.0 516.2 L279.0 515.5 L280.0 515.0 L280.8 514.8 L281.0 514.8 L282.0 514.7 L283.0 514.6 L284.0 514.6 L285.0 514.5 L285.5 514.5 L286.0 514.6 L287.0 515.6 L288.0 517.3 L289.0 519.2 L289.4 520.0 L290.0 521.2 L291.0 523.8 L292.0 526.8 L293.0 529.4 L293.3 530.2 L294.0 531.3 L295.0 532.8 L296.0 534.1 L297.0 535.5 L298.0 537.1 L298.0 537.3 L299.0 539.3 L300.0 541.8 L301.0 543.9 L301.2 544.3 L302.0 545.5 L303.0 547.0 L304.0 548.3 L305.0 549.3 L305.9 549.8 L306.0 549.8 L307.0 550.1 L308.0 550.3 L309.0 550.5 L310.0 550.6 L310.6 550.6 L311.0 550.5 L312.0 549.9 L313.0 549.0 L314.0 548.4 L314.5 548.2 L315.0 548.5 L316.0 550.3 L316.9 551.4 L317.0 551.4 L318.0 551.0 L319.0 550.6 L319.2 550.6 L320.0 550.9 L321.0 552.2 L322.0 553.8 L323.0 555.1 L323.1 555.3 L324.0 556.1 L325.0 557.0 L326.0 558.0 L327.0 558.9 L328.0 559.6 L329.0 560.2 L330.0 560.6 L331.0 560.8 L331.0 560.8 L332.0 560.4 L333.0 559.7 L334.0 559.2 L334.1 559.2 L335.0 559.3 L336.0 559.8 L337.0 560.4 L338.0 561.0 L338.8 561.6 L339.0 561.6 L340.0 562.2 L341.0 562.8 L342.0 563.4 L343.0 564.0 L344.0 564.7 L345.0 565.4 L346.0 566.1 L347.0 566.8 L348.0 567.6 L348.2 567.8 L349.0 568.5 L350.0 569.5 L350.0 569.6 L351.0 570.5 L352.0 571.3 L353.0 572.1 L354.0 573.0 L355.0 573.8 L356.0 574.6 L357.0 575.4 L358.0 576.3 L358.8 577.1 L359.0 577.3 L360.0 578.5 L361.0 580.0 L362.0 581.4 L363.0 582.3 L363.8 582.7 L364.0 582.7 L365.0 582.3 L366.0 581.5 L367.0 580.6 L368.0 579.9 L368.9 579.7 L369.0 579.7 L370.0 579.7 L371.0 579.8 L372.0 579.9 L373.0 580.0 L373.9 580.2 L374.0 580.2 L375.0 580.4 L376.0 580.8 L377.0 581.2 L378.0 581.8 L379.0 582.4 L380.0 583.0 L381.0 583.7 L382.0 584.4 L383.0 585.1 L384.0 585.7 L385.0 586.3 L385.2 586.4 L386.0 586.9 L387.0 587.4 L388.0 588.0 L389.0 588.5 L390.0 589.1 L391.0 589.6 L392.0 590.2 L393.0 590.7 L394.0 591.3 L395.0 591.8 L396.0 592.3 L397.0 592.9 L398.0 593.5 L399.0 594.0 L400.0 594.6 L400.2 594.7 L401.0 595.1 L402.0 595.7 L403.0 596.3 L404.0 596.8 L405.0 597.4 L406.0 598.0 L407.0 598.6 L408.0 599.1 L409.0 599.7 L410.0 600.3 L411.0 600.9 L412.0 601.4 L413.0 602.0 L414.0 602.5 L415.0 603.1 L415.3 603.3 L416.0 603.6 L417.0 604.1 L418.0 604.6 L419.0 605.2 L420.0 605.7 L421.0 606.2 L422.0 606.7 L423.0 607.2 L424.0 607.7 L425.0 608.2 L426.0 608.6 L427.0 609.1 L428.0 609.6 L429.0 610.1 L430.0 610.6 L430.4 610.8 L431.0 611.1 L432.0 611.6 L433.0 612.0 L434.0 612.5 L435.0 613.0 L436.0 613.5 L437.0 613.9 L438.0 614.4 L439.0 614.9 L440.0 615.3 L441.0 615.8 L442.0 616.3 L443.0 616.7 L444.0 617.2 L445.0 617.6 L445.4 617.8 L446.0 618.0 L447.0 618.5 L448.0 618.9 L449.0 619.4 L450.0 619.8 L451.0 620.2 L452.0 620.7 L453.0 621.1 L454.0 621.5 L455.0 621.9 L456.0 622.3 L457.0 622.7 L458.0 623.1 L459.0 623.5 L460.0 623.9 L460.5 624.1 L461.0 624.3 L462.0 624.6 L463.0 625.0 L464.0 625.3 L465.0 625.7 L466.0 626.0 L467.0 626.4 L468.0 626.7 L469.0 627.1 L470.0 627.4 L471.0 627.7 L472.0 628.0 L473.0 628.3 L474.0 628.6 L475.0 628.9 L475.5 629.1 L476.0 629.2 L477.0 629.5 L478.0 629.8 L479.0 630.1 L480.0 630.4 L481.0 630.7 L482.0 631.0 L483.0 631.2 L484.0 631.5 L485.0 631.7 L486.0 632.0 L487.0 632.2 L488.0 632.3 L488.1 632.4 L489.0 632.5 L490.0 632.7 L491.0 632.8 L492.0 633.0 L493.0 633.2 L494.0 633.3 L495.0 633.5 L496.0 633.6 L497.0 633.7 L498.0 633.8 L499.0 633.8 L500.0 633.9" stroke="#0f0" stroke-width="2" fill="none" stroke-linejoin="round" shape-rendering="crispEdges"/>
<rect x="165.5" y="453.5" width="989.0" height="303.0" fill="none" stroke="#262626" stroke-width="1.2"/>
<text class="tk" x="157.2" y="459.7" text-anchor="end">15000</text>
<text class="tk" x="157.2" y="520.3" text-anchor="end">10000</text>
<text class="tk" x="157.2" y="580.9" text-anchor="end">5000</text>
<text class="tk" x="157.2" y="641.5" text-anchor="end">0</text>
<text class="tk" x="157.2" y="702.1" text-anchor="end">-5000</text>
<text class="tk" x="157.2" y="762.7" text-anchor="end">-10000</text>
<text class="yl" transform="translate(44.0 605.2) rotate(-90)" text-anchor="middle">CRF Coordinates</text>
<text class="yl" transform="translate(70.2 605.2) rotate(-90)" text-anchor="middle">BY (nT)</text>
<text class="lg" transform="translate(1176.4 666.4) rotate(-90)">Inboard B</text>
<text class="lg" transform="translate(1196.2 666.4) rotate(-90)">Outboard B</text>
<text class="lg" transform="translate(1215.2 666.4) rotate(-90)">Model B</text>
<path d="M1171.0 695 V713" stroke="#00f" stroke-width="2"/><path d="M1191 695 V713" stroke="#0f0" stroke-width="2"/><path d="M1211 695 V713" stroke="#f00" stroke-width="2"/>
</g>
<g id="plot3">
<path d="M412.75 797.5 v10 M412.75 1106.5 v-10 M660.00 797.5 v10 M660.00 1106.5 v-10 M907.25 797.5 v10 M907.25 1106.5 v-10 M165.5 952.00 h10 M1154.5 952.00 h-10" stroke="#262626" stroke-width="1.2" fill="none"/>
<rect x="167" y="800" width="14" height="303" fill="#d9d9d9"/>
<rect x="181" y="800" width="1" height="303" fill="#ffb3ff"/>
<rect x="183" y="800" width="1" height="303" fill="#ffb3ff"/>
<rect x="184" y="800" width="42" height="303" fill="#d9d9d9"/>
<rect x="228" y="800" width="1" height="303" fill="#ffb3ff"/>
<rect x="230" y="800" width="1" height="303" fill="#ffb3ff"/>
<rect x="231" y="800" width="11" height="303" fill="#d9d9d9"/>
<rect x="246" y="800" width="2" height="303" fill="#d9d9d9"/>
<rect x="255" y="800" width="1" height="303" fill="#ffb3ff"/>
<rect x="257" y="800" width="1" height="303" fill="#ffb3ff"/>
<rect x="264" y="800" width="2" height="303" fill="#d9d9d9"/>
<rect x="271" y="800" width="1" height="303" fill="#d9d9d9"/>
<rect x="284" y="800" width="1" height="303" fill="#ffb3ff"/>
<rect x="289" y="800" width="4" height="303" fill="#d9d9d9"/>
<rect x="297" y="800" width="2" height="303" fill="#d9d9d9"/>
<rect x="304" y="800" width="3" height="303" fill="#d9d9d9"/>
<rect x="317" y="800" width="1" height="303" fill="#d9d9d9"/>
<rect x="332" y="800" width="1" height="303" fill="#d9d9d9"/>
<rect x="684" y="800" width="4" height="303" fill="#d9d9d9"/>
<rect x="692" y="800" width="6" height="303" fill="#d9d9d9"/>
<rect x="700" y="800" width="3" height="303" fill="#d9d9d9"/>
<rect x="718" y="800" width="3" height="303" fill="#d9d9d9"/>
<rect x="730" y="800" width="2" height="303" fill="#d9d9d9"/>
<rect x="746" y="800" width="1" height="303" fill="#ffb3ff"/>
<rect x="747" y="800" width="1" height="303" fill="#d9d9d9"/>
<rect x="748" y="800" width="1" height="303" fill="#ffb3ff"/>
<rect x="749" y="800" width="1" height="303" fill="#e6e6e6"/>
<rect x="754" y="800" width="1" height="303" fill="#d9d9d9"/>
<rect x="757" y="800" width="3" height="303" fill="#d9d9d9"/>
<rect x="813" y="800" width="8" height="303" fill="#d9d9d9"/>
<rect x="824" y="800" width="2" height="303" fill="#d9d9d9"/>
<rect x="855" y="800" width="8" height="303" fill="#d9d9d9"/>
<rect x="1000" y="800" width="1" height="303" fill="#d9d9d9"/>
<rect x="1007" y="800" width="2" height="303" fill="#d9d9d9"/>
<rect x="1015" y="800" width="18" height="303" fill="#d9d9d9"/>
<rect x="1111" y="800" width="42" height="303" fill="#d9d9d9"/>
<path d="M527.0 897.7 L527.3 897.3 L528.0 896.6 L529.0 895.5 L530.0 894.4 L531.0 893.2 L532.0 892.1 L533.0 891.0 L534.0 889.9 L535.0 888.8 L536.0 887.7 L536.7 887.0 L537.0 886.7 L538.0 885.6 L539.0 884.6 L540.0 883.6 L541.0 882.6 L542.0 881.5 L543.0 880.5 L544.0 879.5 L545.0 878.5 L546.0 877.6 L547.0 876.6 L548.0 875.6 L549.0 874.7 L550.0 873.7 L550.0 873.7 L551.0 872.8 L552.0 871.8 L553.0 870.9 L554.0 870.0 L555.0 869.0 L556.0 868.1 L557.0 867.2 L558.0 866.3 L559.0 865.5 L560.0 864.6 L561.0 863.7 L562.0 862.8 L563.0 862.0 L563.3 861.7 L564.0 861.1 L565.0 860.3 L566.0 859.5 L567.0 858.6 L568.0 857.8 L569.0 857.0 L570.0 856.2 L571.0 855.4 L572.0 854.6 L573.0 853.8 L574.0 853.1 L575.0 852.3 L576.0 851.5 L576.7 851.0 L577.0 850.8 L578.0 850.0 L579.0 849.3 L580.0 848.6 L581.0 847.9 L582.0 847.1 L583.0 846.4 L584.0 845.7 L585.0 845.0 L586.0 844.3 L587.0 843.7 L588.0 843.0 L589.0 842.3 L590.0 841.7 L590.0 841.7 L591.0 841.0 L592.0 840.4 L593.0 839.8 L594.0 839.1 L595.0 838.5 L596.0 837.9 L597.0 837.3 L598.0 836.7 L599.0 836.1 L600.0 835.5 L601.0 835.0 L602.0 834.4 L603.0 833.9 L603.3 833.7 L604.0 833.3 L605.0 832.8 L606.0 832.3 L607.0 831.8 L608.0 831.3 L609.0 830.8 L610.0 830.3 L611.0 829.8 L612.0 829.4 L613.0 828.9 L614.0 828.5 L615.0 828.1 L616.0 827.7 L616.7 827.4 L617.0 827.3 L618.0 826.9 L619.0 826.5 L620.0 826.2 L621.0 825.8 L622.0 825.4 L623.0 825.1 L624.0 824.8 L625.0 824.4 L626.0 824.1 L627.0 823.8 L628.0 823.5 L629.0 823.3 L630.0 823.0 L630.0 823.0 L631.0 822.8 L632.0 822.5 L633.0 822.3 L634.0 822.0 L635.0 821.8 L636.0 821.6 L637.0 821.3 L638.0 821.1 L639.0 821.0 L640.0 820.8 L641.0 820.6 L642.0 820.5 L643.0 820.4 L643.3 820.3 L644.0 820.3 L645.0 820.2 L646.0 820.1 L647.0 820.0 L648.0 819.9 L649.0 819.9 L650.0 819.8 L651.0 819.7 L652.0 819.7 L653.0 819.7 L654.0 819.7 L654.0 819.7 L655.0 819.7 L656.0 819.7 L657.0 819.7 L658.0 819.7 L659.0 819.7 L660.0 819.8 L661.0 819.8 L662.0 819.8 L663.0 819.9 L664.0 819.9 L664.7 819.9 L665.0 819.9 L666.0 820.0 L667.0 820.1 L668.0 820.3 L669.0 820.4 L670.0 820.6 L671.0 820.8 L672.0 820.9 L673.0 821.1 L674.0 821.3 L674.0 821.3 L675.0 821.4 L676.0 821.5 L677.0 821.6 L678.0 821.8 L679.0 821.9 L680.0 822.1 L680.0 822.1 L681.0 822.2 L682.0 822.4 L683.0 822.6 L684.0 822.8 L685.0 823.0 L686.0 823.2 L687.0 823.4 L688.0 823.7 L689.0 823.9 L690.0 824.1 L691.0 824.4 L692.0 824.6 L693.0 824.8 L694.0 825.1 L695.0 825.3 L696.0 825.5 L697.0 825.8 L698.0 826.0 L698.0 826.0 L699.0 826.2 L700.0 826.4 L701.0 826.6 L702.0 826.9 L703.0 827.1 L704.0 827.3 L705.0 827.5 L706.0 827.7 L707.0 827.9 L708.0 828.2 L709.0 828.4 L710.0 828.6 L711.0 828.8 L712.0 829.0 L713.0 829.3 L714.0 829.5 L715.0 829.7 L716.0 829.9 L717.0 830.2 L718.0 830.4 L718.0 830.4 L719.0 830.6 L720.0 830.9 L721.0 831.1 L722.0 831.3 L723.0 831.6 L724.0 831.8 L725.0 832.0 L726.0 832.3 L727.0 832.5 L728.0 832.8 L729.0 833.0 L730.0 833.3 L731.0 833.5 L732.0 833.7 L733.0 834.0 L734.0 834.2 L735.0 834.5 L736.0 834.7 L737.0 835.0 L738.0 835.2 L738.0 835.2 L739.0 835.4 L740.0 835.7 L741.0 835.9 L742.0 836.1 L743.0 836.4 L744.0 836.6 L745.0 836.9 L746.0 837.1 L747.0 837.3 L748.0 837.6 L749.0 837.8 L750.0 838.0 L751.0 838.3 L752.0 838.5 L753.0 838.8 L754.0 839.0 L755.0 839.2 L756.0 839.5 L757.0 839.7 L758.0 840.0 L758.0 840.0 L759.0 840.2 L760.0 840.5 L761.0 840.7 L762.0 841.0 L763.0 841.3 L764.0 841.5 L765.0 841.8 L766.0 842.0 L767.0 842.3 L768.0 842.5 L769.0 842.8 L770.0 843.1 L771.0 843.3 L772.0 843.6 L773.0 843.9 L774.0 844.1 L775.0 844.4 L776.0 844.7 L777.0 844.9 L778.0 845.2 L778.0 845.2 L779.0 845.5 L780.0 845.7 L781.0 846.0 L782.0 846.3 L783.0 846.5 L784.0 846.8 L785.0 847.1 L786.0 847.4 L787.0 847.6 L788.0 847.9 L789.0 848.2 L790.0 848.5 L791.0 848.8 L792.0 849.0 L793.0 849.3 L794.0 849.6 L795.0 849.9 L796.0 850.2 L797.0 850.5 L798.0 850.8 L798.0 850.8 L799.0 851.1 L800.0 851.4 L801.0 851.6 L802.0 851.9 L803.0 852.2 L804.0 852.5 L805.0 852.8 L806.0 853.1 L807.0 853.4 L808.0 853.7 L809.0 854.0 L810.0 854.4 L811.0 854.8 L812.0 855.2 L812.0 855.2 L813.0 855.7 L814.0 856.2 L815.0 856.8 L816.0 857.5 L817.0 858.2 L818.0 858.8 L819.0 859.4 L820.0 860.0 L820.0 860.0 L821.0 860.5 L822.0 861.0 L823.0 861.4 L824.0 861.9 L825.0 862.3 L826.0 862.7 L827.0 863.1 L828.0 863.5 L829.0 863.9 L830.0 864.3 L831.0 864.7 L832.0 865.1 L833.0 865.6 L834.0 866.0 L834.0 866.0 L835.0 866.4 L836.0 866.9 L837.0 867.3 L838.0 867.7 L839.0 868.2 L840.0 868.6 L840.0 868.7 L841.0 869.1 L842.0 869.6 L843.0 870.1 L844.0 870.7 L845.0 871.2 L846.0 871.7 L847.0 872.3 L848.0 872.8 L849.0 873.4 L850.0 873.9 L851.0 874.4 L852.0 875.0 L853.0 875.5 L854.0 876.0 L855.0 876.5 L855.3 876.7 L856.0 877.0 L857.0 877.4 L858.0 877.9 L859.0 878.3 L860.0 878.7 L861.0 879.2 L862.0 879.7 L862.7 880.0 L863.0 880.1 L864.0 880.6 L865.0 881.2 L866.0 881.7 L867.0 882.2 L868.0 882.7 L869.0 883.3 L870.0 883.8 L871.0 884.4 L872.0 884.9 L873.0 885.5 L874.0 886.1 L875.0 886.7 L876.0 887.2 L877.0 887.8 L878.0 888.4 L879.0 889.0 L880.0 889.6 L880.0 889.6 L881.0 890.2 L882.0 890.8 L883.0 891.4 L884.0 892.0 L885.0 892.6 L886.0 893.3 L887.0 893.9 L888.0 894.5 L889.0 895.2 L890.0 895.8 L891.0 896.5 L892.0 897.1 L893.0 897.8 L893.3 898.0 L894.0 898.4 L895.0 899.1 L896.0 899.7 L897.0 900.4 L898.0 901.0 L899.0 901.7 L900.0 902.4 L901.0 903.1 L902.0 903.7 L903.0 904.4 L904.0 905.1 L905.0 905.8 L906.0 906.5 L906.7 906.9 L907.0 907.1 L908.0 907.8 L909.0 908.5 L910.0 909.2 L911.0 909.9 L912.0 910.6 L913.0 911.3 L914.0 912.0 L915.0 912.7 L916.0 913.4 L917.0 914.1 L918.0 914.8 L919.0 915.5 L920.0 916.2 L920.0 916.3 L921.0 917.0 L922.0 917.7 L923.0 918.4 L924.0 919.2 L925.0 919.9 L926.0 920.7 L927.0 921.4 L928.0 922.2 L929.0 923.0 L930.0 923.7 L931.0 924.5 L932.0 925.2 L933.0 926.0 L933.3 926.3 L934.0 926.7 L935.0 927.5 L936.0 928.2 L937.0 929.0 L938.0 929.7 L939.0 930.5 L940.0 931.3 L941.0 932.0 L942.0 932.8 L943.0 933.5 L944.0 934.3 L945.0 935.0 L946.0 935.7 L946.7 936.3 L947.0 936.5 L948.0 937.2 L949.0 938.0 L950.0 938.7 L951.0 939.4 L952.0 940.2 L953.0 940.9 L954.0 941.6 L955.0 942.4 L956.0 943.1 L957.0 943.8 L958.0 944.5 L959.0 945.3 L960.0 946.0 L960.0 946.0 L961.0 946.7 L962.0 947.4 L963.0 948.1 L964.0 948.8 L965.0 949.5 L966.0 950.2 L967.0 950.9 L968.0 951.6 L969.0 952.3 L970.0 953.0 L971.0 953.7 L972.0 954.4 L973.0 955.1 L973.3 955.3 L974.0 955.8 L975.0 956.4 L976.0 957.1 L977.0 957.8 L978.0 958.4 L979.0 959.1 L980.0 959.7 L981.0 960.4 L982.0 961.0 L983.0 961.7 L984.0 962.3 L985.0 962.9 L986.0 963.6 L986.7 964.0 L987.0 964.2 L988.0 964.8 L989.0 965.4 L990.0 966.0 L991.0 966.6 L992.0 967.3 L993.0 967.9 L994.0 968.5 L995.0 969.0 L996.0 969.6 L997.0 970.2 L998.0 970.8 L999.0 971.4 L1000.0 972.0 L1000.0 972.0 L1001.0 972.6 L1002.0 973.1 L1003.0 973.7 L1004.0 974.3 L1005.0 974.8 L1006.0 975.4 L1007.0 975.9 L1008.0 976.5 L1009.0 977.0 L1010.0 977.6 L1010.0 977.6 L1011.0 978.1 L1012.0 978.7 L1013.0 979.2 L1014.0 979.8 L1015.0 980.4 L1016.0 980.9 L1017.0 981.5 L1018.0 982.0 L1019.0 982.5 L1020.0 983.0 L1021.0 983.5 L1022.0 984.0 L1022.0 984.0 L1023.0 984.4 L1024.0 984.9 L1025.0 985.3 L1026.0 985.7 L1027.0 986.1 L1028.0 986.5 L1029.0 986.9 L1030.0 987.2 L1031.0 987.6 L1032.0 988.0 L1033.0 988.4 L1034.0 988.8 L1034.0 988.8 L1035.0 989.2 L1036.0 989.6 L1037.0 990.0 L1038.0 990.4 L1039.0 990.8 L1040.0 991.2 L1041.0 991.7 L1042.0 992.1 L1043.0 992.5 L1044.0 992.9 L1045.0 993.3 L1046.0 993.7 L1047.0 994.1 L1048.0 994.4 L1049.0 994.8 L1050.0 995.2 L1050.0 995.2 L1051.0 995.5 L1052.0 995.9 L1053.0 996.2 L1054.0 996.6 L1055.0 996.9 L1056.0 997.3 L1057.0 997.6 L1058.0 997.9 L1059.0 998.3 L1060.0 998.6 L1061.0 998.9 L1062.0 999.2 L1063.0 999.5 L1064.0 999.8 L1065.0 1000.1 L1066.0 1000.4 L1066.0 1000.4 L1067.0 1000.7 L1068.0 1000.9 L1069.0 1001.2 L1070.0 1001.5 L1071.0 1001.7 L1072.0 1002.0 L1073.0 1002.2 L1074.0 1002.5 L1075.0 1002.7 L1076.0 1002.9 L1077.0 1003.2 L1078.0 1003.4 L1079.0 1003.7 L1080.0 1003.9 L1081.0 1004.1 L1082.0 1004.4 L1082.0 1004.4 L1083.0 1004.6 L1084.0 1004.9 L1085.0 1005.1 L1086.0 1005.4 L1087.0 1005.6 L1088.0 1005.9 L1089.0 1006.1 L1090.0 1006.4 L1091.0 1006.6 L1092.0 1006.9 L1093.0 1007.1 L1094.0 1007.4 L1095.0 1007.6 L1096.0 1007.9 L1097.0 1008.1 L1098.0 1008.4 L1098.0 1008.4 L1099.0 1008.7 L1100.0 1008.9 L1101.0 1009.3 L1102.0 1009.6 L1103.0 1009.9 L1104.0 1010.2 L1105.0 1010.6 L1106.0 1010.9 L1107.0 1011.2 L1108.0 1011.5 L1109.0 1011.7 L1110.0 1012.0 L1111.0 1012.1 L1112.0 1012.3 L1113.0 1012.4 L1114.0 1012.4 L1114.0 1012.4 L1115.0 1012.4 L1116.0 1012.4 L1117.0 1012.4 L1118.0 1012.4 L1119.0 1012.4 L1120.0 1012.4 L1121.0 1012.4 L1122.0 1012.4 L1123.0 1012.4 L1124.0 1012.4 L1124.0 1012.4 L1125.0 1012.6 L1126.0 1013.0 L1127.0 1013.5 L1128.0 1014.0 L1128.0 1014.0 L1129.0 1014.4 L1130.0 1014.8 L1131.0 1015.3 L1132.0 1015.7 L1133.0 1016.2 L1134.0 1016.6 L1135.0 1017.1 L1136.0 1017.5 L1137.0 1018.0 L1138.0 1018.4 L1139.0 1018.8 L1140.0 1019.2 L1140.0 1019.2 L1141.0 1019.6 L1142.0 1019.9 L1143.0 1020.3 L1144.0 1020.7 L1145.0 1021.0 L1146.0 1021.4 L1147.0 1021.7 L1148.0 1022.1 L1149.0 1022.4 L1150.0 1022.7 L1151.0 1023.1 L1152.0 1023.4 L1153.0 1023.7 L1154.0 1024.0 L1154.0 1024.0" stroke="#00f" stroke-width="2" fill="none" stroke-linejoin="round" shape-rendering="crispEdges"/>
<path d="M166.0 1045.4 L167.0 1046.2 L168.0 1046.9 L169.0 1047.6 L170.0 1048.2 L171.0 1048.8 L171.0 1048.8 L172.0 1049.4 L173.0 1050.0 L174.0 1050.5 L175.0 1050.8 L175.7 1050.9 L176.0 1050.9 L177.0 1050.8 L178.0 1050.8 L179.0 1050.7 L179.6 1050.7 L180.0 1050.8 L181.0 1051.4 L182.0 1052.2 L183.0 1052.9 L183.5 1053.1 L184.0 1053.0 L185.0 1052.9 L186.0 1052.8 L186.7 1052.7 L187.0 1052.8 L188.0 1053.3 L189.0 1054.3 L190.0 1055.2 L191.0 1055.8 L191.4 1055.9 L192.0 1055.8 L193.0 1055.6 L194.0 1055.2 L195.0 1054.9 L195.8 1054.8 L196.0 1054.8 L197.0 1055.4 L198.0 1056.5 L199.0 1057.6 L200.0 1058.2 L200.0 1058.2 L201.0 1058.4 L202.0 1058.4 L203.0 1058.5 L204.0 1058.6 L204.7 1058.7 L205.0 1058.8 L206.0 1059.5 L207.0 1060.5 L207.8 1060.9 L208.0 1060.9 L209.0 1061.0 L210.0 1061.0 L211.0 1061.0 L211.8 1061.1 L212.0 1061.1 L213.0 1061.6 L214.0 1062.4 L215.0 1063.3 L216.0 1064.0 L216.5 1064.2 L217.0 1064.3 L218.0 1064.5 L219.0 1064.6 L220.0 1064.7 L220.4 1064.8 L221.0 1065.0 L222.0 1065.5 L223.0 1066.2 L224.0 1066.8 L225.0 1067.3 L225.1 1067.3 L226.0 1067.6 L227.0 1067.8 L228.0 1068.0 L229.0 1068.3 L230.0 1068.5 L230.6 1068.7 L231.0 1068.9 L232.0 1069.5 L233.0 1070.3 L234.0 1071.2 L235.0 1072.0 L236.0 1072.6 L236.1 1072.7 L237.0 1073.1 L238.0 1073.5 L239.0 1073.9 L240.0 1074.3 L241.0 1074.6 L242.0 1074.9 L243.0 1075.2 L244.0 1075.5 L245.0 1075.8 L246.0 1076.2 L246.3 1076.3 L247.0 1076.5 L248.0 1076.8 L249.0 1077.2 L250.0 1077.5 L251.0 1077.9 L252.0 1078.2 L253.0 1078.5 L254.0 1078.9 L255.0 1079.2 L256.0 1079.5 L257.0 1079.8 L257.3 1079.9 L258.0 1080.1 L259.0 1080.4 L260.0 1080.7 L261.0 1081.0 L262.0 1081.3 L263.0 1081.6 L264.0 1081.9 L265.0 1082.2 L266.0 1082.4 L267.0 1082.7 L268.0 1082.9 L269.0 1083.2 L269.8 1083.3 L270.0 1083.4 L271.0 1083.6 L272.0 1083.7 L273.0 1083.9 L274.0 1084.1 L275.0 1084.2 L276.0 1084.4 L277.0 1084.5 L278.0 1084.6 L279.0 1084.8 L280.0 1084.9 L281.0 1085.0 L282.0 1085.2 L282.4 1085.2 L283.0 1085.3 L284.0 1085.4 L285.0 1085.6 L286.0 1085.7 L287.0 1085.9 L288.0 1086.0 L289.0 1086.2 L290.0 1086.3 L291.0 1086.4 L292.0 1086.4 L293.0 1086.5 L293.3 1086.5 L294.0 1086.5 L295.0 1086.5 L296.0 1086.5 L297.0 1086.5 L298.0 1086.5 L299.0 1086.5 L300.0 1086.5 L301.0 1086.5 L302.0 1086.5 L303.0 1086.5 L304.0 1086.5 L305.0 1086.5 L305.9 1086.5 L306.0 1086.5 L307.0 1086.4 L308.0 1086.4 L309.0 1086.3 L310.0 1086.2 L311.0 1086.0 L312.0 1085.8 L313.0 1085.6 L314.0 1085.4 L315.0 1085.2 L316.0 1085.0 L317.0 1084.7 L318.0 1084.5 L318.4 1084.4 L319.0 1084.3 L320.0 1084.1 L321.0 1083.8 L322.0 1083.6 L323.0 1083.3 L324.0 1083.0 L325.0 1082.7 L326.0 1082.4 L327.0 1082.1 L328.0 1081.8 L329.0 1081.4 L330.0 1081.1 L331.0 1080.8 L332.0 1080.4 L332.5 1080.2 L333.0 1080.0 L334.0 1079.7 L335.0 1079.3 L336.0 1078.9 L337.0 1078.5 L338.0 1078.1 L339.0 1077.7 L340.0 1077.2 L341.0 1076.8 L342.0 1076.3 L343.0 1075.9 L344.0 1075.4 L345.0 1074.9 L346.0 1074.4 L347.0 1073.9 L348.0 1073.4 L349.0 1072.9 L350.0 1072.4 L350.0 1072.4 L351.0 1071.9 L352.0 1071.4 L353.0 1070.8 L354.0 1070.3 L355.0 1069.7 L356.0 1069.2 L357.0 1068.6 L358.0 1068.0 L359.0 1067.4 L360.0 1066.8 L361.0 1066.2 L362.0 1065.5 L363.0 1064.9 L363.3 1064.7 L364.0 1064.3 L365.0 1063.6 L366.0 1062.9 L367.0 1062.3 L368.0 1061.6 L369.0 1060.9 L370.0 1060.2 L371.0 1059.5 L372.0 1058.7 L373.0 1058.0 L374.0 1057.3 L375.0 1056.6 L376.0 1055.8 L376.7 1055.3 L377.0 1055.1 L378.0 1054.4 L379.0 1053.7 L380.0 1052.9 L381.0 1052.2 L382.0 1051.4 L383.0 1050.7 L384.0 1049.9 L385.0 1049.2 L386.0 1048.4 L387.0 1047.7 L388.0 1046.9 L389.0 1046.1 L390.0 1045.4 L390.0 1045.3 L391.0 1044.6 L392.0 1043.8 L393.0 1043.0 L394.0 1042.3 L395.0 1041.5 L396.0 1040.7 L397.0 1039.9 L398.0 1039.1 L399.0 1038.3 L400.0 1037.5 L401.0 1036.6 L402.0 1035.8 L403.0 1035.0 L403.3 1034.7 L404.0 1034.1 L405.0 1033.3 L406.0 1032.4 L407.0 1031.5 L408.0 1030.7 L409.0 1029.8 L410.0 1028.9 L411.0 1028.0 L412.0 1027.1 L413.0 1026.1 L414.0 1025.2 L415.0 1024.3 L416.0 1023.3 L416.7 1022.7 L417.0 1022.4 L418.0 1021.4 L419.0 1020.5 L420.0 1019.5 L421.0 1018.5 L422.0 1017.5 L423.0 1016.5 L424.0 1015.5 L425.0 1014.5 L426.0 1013.5 L427.0 1012.5 L428.0 1011.5 L429.0 1010.4 L430.0 1009.4 L430.0 1009.3 L431.0 1008.3 L432.0 1007.3 L433.0 1006.2 L434.0 1005.1 L435.0 1004.0 L436.0 1002.9 L437.0 1001.8 L438.0 1000.7 L439.0 999.6 L440.0 998.5 L441.0 997.3 L442.0 996.2 L443.0 995.1 L443.3 994.7 L444.0 994.0 L445.0 992.8 L446.0 991.7 L447.0 990.5 L448.0 989.4 L449.0 988.2 L450.0 987.1 L451.0 985.9 L452.0 984.8 L453.0 983.6 L454.0 982.5 L455.0 981.3 L456.0 980.1 L456.7 979.3 L457.0 979.0 L458.0 977.8 L459.0 976.7 L460.0 975.6 L461.0 974.4 L462.0 973.3 L463.0 972.1 L464.0 971.0 L465.0 969.8 L466.0 968.7 L467.0 967.5 L468.0 966.4 L469.0 965.2 L470.0 964.0 L470.0 964.0 L471.0 962.9 L472.0 961.7 L473.0 960.5 L474.0 959.3 L475.0 958.1 L476.0 956.9 L477.0 955.7 L478.0 954.5 L479.0 953.3 L480.0 952.1 L481.0 950.9 L482.0 949.7 L483.0 948.4 L483.3 948.0 L484.0 947.2 L485.0 946.0 L486.0 944.8 L487.0 943.6 L488.0 942.4 L489.0 941.2 L490.0 940.0 L491.0 938.8 L492.0 937.6 L493.0 936.4 L494.0 935.2 L495.0 934.0 L496.0 932.8 L496.7 932.0 L497.0 931.7 L498.0 930.5 L499.0 929.3 L500.0 928.1 L501.0 926.9 L502.0 925.7 L503.0 924.5 L504.0 923.3 L505.0 922.2 L506.0 921.0 L507.0 919.8 L508.0 918.7 L509.0 917.5 L510.0 916.4 L510.0 916.3 L511.0 915.2 L512.0 914.1 L513.0 913.0 L514.0 911.9 L515.0 910.8 L516.0 909.7 L517.0 908.6 L518.0 907.5 L519.0 906.4 L520.0 905.3 L521.0 904.2 L522.0 903.1 L523.0 902.0 L524.0 901.0 L525.0 899.9 L526.0 898.8 L527.0 897.7" stroke="#0f0" stroke-width="2" fill="none" stroke-linejoin="round" shape-rendering="crispEdges"/>
<rect x="165.5" y="797.5" width="989.0" height="309.0" fill="none" stroke="#262626" stroke-width="1.2"/>
<text class="tk" x="157.2" y="803.7" text-anchor="end">50000</text>
<text class="tk" x="157.2" y="958.2" text-anchor="end">0</text>
<text class="tk" x="157.2" y="1112.7" text-anchor="end">-50000</text>
<text class="yl" transform="translate(44.0 952.2) rotate(-90)" text-anchor="middle">CRF Coordinates</text>
<text class="yl" transform="translate(70.2 952.2) rotate(-90)" text-anchor="middle">BZ (nT)</text>
<text class="lg" transform="translate(1176.4 1020.6) rotate(-90)">Inboard B</text>
<text class="lg" transform="translate(1196.2 1020.6) rotate(-90)">Outboard B</text>
<text class="lg" transform="translate(1215.2 1020.6) rotate(-90)">Model B</text>
<path d="M1171.0 1047 V1064.5" stroke="#00f" stroke-width="2"/><path d="M1191 1047 V1064.5" stroke="#0f0" stroke-width="2"/><path d="M1211 1047 V1064.5" stroke="#f00" stroke-width="2"/>
</g>
<g id="plot4">
<path d="M412.75 1142.5 v10 M412.75 1452.5 v-10 M660.00 1142.5 v10 M660.00 1452.5 v-10 M907.25 1142.5 v10 M907.25 1452.5 v-10 M165.5 1194.17 h10 M1154.5 1194.17 h-10 M165.5 1245.83 h10 M1154.5 1245.83 h-10 M165.5 1297.50 h10 M1154.5 1297.50 h-10 M165.5 1349.17 h10 M1154.5 1349.17 h-10 M165.5 1400.83 h10 M1154.5 1400.83 h-10" stroke="#262626" stroke-width="1.2" fill="none"/>
<rect x="167" y="1148" width="14" height="269" fill="#d9d9d9"/>
<rect x="181" y="1148" width="1" height="269" fill="#ffb3ff"/>
<rect x="183" y="1148" width="1" height="269" fill="#ffb3ff"/>
<rect x="184" y="1148" width="42" height="269" fill="#d9d9d9"/>
<rect x="228" y="1148" width="1" height="269" fill="#ffb3ff"/>
<rect x="230" y="1148" width="1" height="269" fill="#ffb3ff"/>
<rect x="231" y="1148" width="11" height="269" fill="#d9d9d9"/>
<rect x="246" y="1148" width="2" height="269" fill="#d9d9d9"/>
<rect x="255" y="1148" width="1" height="269" fill="#ffb3ff"/>
<rect x="257" y="1148" width="1" height="269" fill="#ffb3ff"/>
<rect x="264" y="1148" width="2" height="269" fill="#d9d9d9"/>
<rect x="271" y="1148" width="1" height="269" fill="#d9d9d9"/>
<rect x="284" y="1148" width="1" height="269" fill="#ffb3ff"/>
<rect x="289" y="1148" width="4" height="269" fill="#d9d9d9"/>
<rect x="297" y="1148" width="2" height="269" fill="#d9d9d9"/>
<rect x="304" y="1148" width="3" height="269" fill="#d9d9d9"/>
<rect x="317" y="1148" width="1" height="269" fill="#d9d9d9"/>
<rect x="332" y="1148" width="1" height="269" fill="#d9d9d9"/>
<rect x="684" y="1148" width="4" height="269" fill="#d9d9d9"/>
<rect x="692" y="1148" width="6" height="269" fill="#d9d9d9"/>
<rect x="700" y="1148" width="3" height="269" fill="#d9d9d9"/>
<rect x="718" y="1148" width="3" height="269" fill="#d9d9d9"/>
<rect x="730" y="1148" width="2" height="269" fill="#d9d9d9"/>
<rect x="746" y="1148" width="1" height="269" fill="#ffb3ff"/>
<rect x="747" y="1148" width="1" height="269" fill="#d9d9d9"/>
<rect x="748" y="1148" width="1" height="269" fill="#ffb3ff"/>
<rect x="749" y="1148" width="1" height="269" fill="#e6e6e6"/>
<rect x="754" y="1148" width="1" height="269" fill="#d9d9d9"/>
<rect x="757" y="1148" width="3" height="269" fill="#d9d9d9"/>
<rect x="813" y="1148" width="8" height="269" fill="#d9d9d9"/>
<rect x="824" y="1148" width="2" height="269" fill="#d9d9d9"/>
<rect x="855" y="1148" width="8" height="269" fill="#d9d9d9"/>
<rect x="1000" y="1148" width="1" height="269" fill="#d9d9d9"/>
<rect x="1007" y="1148" width="2" height="269" fill="#d9d9d9"/>
<rect x="1015" y="1148" width="18" height="269" fill="#d9d9d9"/>
<rect x="1111" y="1148" width="42" height="269" fill="#d9d9d9"/>
<path d="M659.9 1166.1 L660.9 1166.5 L661.9 1166.9 L662.6 1167.2 L662.9 1167.3 L663.9 1167.7 L664.9 1168.1 L665.9 1168.6 L666.9 1169.2 L667.9 1169.7 L668.9 1170.3 L669.9 1170.8 L670.9 1171.4 L671.9 1172.0 L672.9 1172.6 L673.9 1173.3 L674.9 1173.9 L675.9 1174.5 L676.0 1174.5 L676.9 1175.1 L677.9 1175.7 L678.9 1176.3 L679.9 1176.9 L680.9 1177.6 L681.9 1178.2 L682.9 1178.9 L683.9 1179.6 L684.9 1180.2 L685.3 1180.5 L685.9 1180.9 L686.9 1181.6 L687.9 1182.3 L688.9 1183.0 L689.9 1183.7 L690.9 1184.4 L691.9 1185.1 L692.9 1185.8 L693.9 1186.5 L694.2 1186.8 L694.9 1187.2 L695.9 1188.0 L696.9 1188.7 L697.9 1189.4 L698.9 1190.2 L699.9 1190.9 L700.9 1191.7 L701.9 1192.4 L702.6 1192.9 L702.9 1193.1 L703.9 1193.8 L704.9 1194.5 L705.9 1195.2 L706.9 1195.9 L707.9 1196.5 L708.9 1197.2 L709.9 1197.9 L710.9 1198.6 L711.9 1199.2 L712.9 1199.9 L713.9 1200.6 L714.9 1201.3 L715.9 1201.9 L716.9 1202.6 L717.9 1203.3 L718.6 1203.8 L718.9 1204.0 L719.9 1204.7 L720.9 1205.4 L721.9 1206.2 L722.9 1206.9 L723.9 1207.6 L724.9 1208.3 L725.9 1209.0 L726.9 1209.7 L727.9 1210.5 L728.9 1211.2 L729.9 1211.9 L730.2 1212.1 L730.9 1212.6 L731.9 1213.2 L732.9 1213.9 L733.9 1214.6 L734.9 1215.3 L735.9 1216.0 L736.9 1216.6 L737.9 1217.3 L738.9 1218.0 L739.9 1218.6 L740.9 1219.3 L741.9 1220.0 L742.9 1220.6 L743.9 1221.3 L744.9 1222.0 L745.9 1222.6 L746.9 1223.3 L747.3 1223.6 L747.9 1224.0 L748.9 1224.6 L749.9 1225.3 L750.9 1225.9 L751.9 1226.6 L752.9 1227.3 L753.9 1227.9 L754.9 1228.6 L755.9 1229.3 L756.9 1229.9 L757.7 1230.5 L757.9 1230.6 L758.9 1231.4 L759.9 1232.1 L760.9 1232.8 L761.9 1233.6 L762.9 1234.3 L763.9 1235.1 L764.9 1235.8 L765.9 1236.6 L766.9 1237.3 L767.9 1238.1 L768.9 1238.9 L769.3 1239.2 L769.9 1239.6 L770.9 1240.4 L771.9 1241.1 L772.9 1241.9 L773.9 1242.7 L774.9 1243.4 L775.9 1244.2 L776.9 1245.0 L777.9 1245.7 L778.9 1246.5" stroke="#f00" stroke-width="2" fill="none" stroke-linejoin="round" shape-rendering="crispEdges"/>
<path d="M492.6 1333.7 L493.3 1333.3 L493.6 1333.2 L494.6 1332.6 L495.6 1332.0 L496.6 1331.4 L497.6 1330.6 L498.6 1329.9 L499.6 1329.1 L500.6 1328.3 L501.6 1327.5 L502.6 1326.6 L503.3 1326.0 L503.6 1325.8 L504.6 1324.9 L505.6 1324.0 L506.6 1323.0 L507.6 1322.0 L508.6 1321.0 L509.6 1320.0 L510.6 1318.9 L511.6 1317.8 L512.6 1316.7 L513.6 1315.6 L514.6 1314.4 L515.6 1313.3 L516.6 1312.1 L516.7 1312.0 L517.6 1310.9 L518.6 1309.6 L519.6 1308.3 L520.6 1306.9 L521.6 1305.6 L522.6 1304.2 L523.6 1302.7 L524.6 1301.3 L525.6 1299.8 L526.6 1298.4 L527.6 1296.9 L528.6 1295.4 L529.6 1293.9 L530.0 1293.3 L530.6 1292.4 L531.6 1291.0 L532.6 1289.5 L533.6 1287.9 L534.6 1286.4 L535.6 1284.9 L536.6 1283.3 L537.6 1281.8 L538.6 1280.2 L539.6 1278.6 L540.6 1277.0 L541.6 1275.4 L542.6 1273.8 L543.3 1272.7 L543.6 1272.2 L544.6 1270.6 L545.6 1269.0 L546.6 1267.4 L547.6 1265.7 L548.6 1264.1 L549.6 1262.4 L550.6 1260.8 L551.6 1259.1 L552.6 1257.4 L553.6 1255.8 L554.6 1254.1 L555.6 1252.4 L556.6 1250.8 L556.7 1250.7 L557.6 1249.1 L558.6 1247.5 L559.6 1245.8 L560.6 1244.2 L561.6 1242.5 L562.6 1240.8 L563.6 1239.2 L564.6 1237.5 L565.6 1235.9 L566.6 1234.2 L567.6 1232.6 L568.6 1230.9 L569.6 1229.3 L570.0 1228.7 L570.6 1227.7 L571.6 1226.1 L572.6 1224.4 L573.6 1222.8 L574.6 1221.1 L575.6 1219.5 L576.6 1217.8 L577.6 1216.2 L578.6 1214.6 L579.6 1213.0 L580.6 1211.5 L581.6 1209.9 L582.6 1208.4 L583.3 1207.3 L583.6 1206.9 L584.6 1205.5 L585.6 1204.0 L586.6 1202.6 L587.6 1201.2 L588.6 1199.8 L589.6 1198.4 L590.6 1197.0 L591.6 1195.7 L592.6 1194.4 L593.6 1193.1 L594.6 1191.8 L595.6 1190.6 L596.6 1189.4 L596.7 1189.3 L597.6 1188.2 L598.6 1187.1 L599.6 1185.9 L600.6 1184.7 L601.6 1183.6 L602.6 1182.5 L603.6 1181.4 L604.6 1180.4 L605.6 1179.3 L606.6 1178.4 L607.6 1177.4 L608.6 1176.5 L609.6 1175.7 L610.0 1175.3 L610.6 1174.9 L611.6 1174.1 L612.6 1173.3 L613.6 1172.6 L614.6 1171.8 L615.6 1171.1 L616.6 1170.4 L617.6 1169.8 L618.6 1169.2 L619.6 1168.6 L620.6 1168.0 L621.6 1167.5 L622.6 1167.0 L623.3 1166.7 L623.6 1166.5 L624.6 1166.1 L625.6 1165.7 L626.6 1165.3 L627.6 1164.9 L628.6 1164.5 L629.6 1164.2 L630.6 1163.9 L631.6 1163.6 L632.6 1163.3 L633.6 1163.1 L634.0 1163.1 L634.6 1163.0 L635.6 1162.8 L636.6 1162.6 L637.6 1162.5 L638.6 1162.3 L639.6 1162.2 L640.6 1162.1 L641.6 1162.1 L642.6 1162.0 L643.3 1162.0 L643.6 1162.0 L644.6 1162.0 L645.6 1162.1 L646.6 1162.2 L647.6 1162.3 L648.6 1162.5 L649.6 1162.6 L650.0 1162.7 L650.6 1162.8 L651.6 1162.9 L652.6 1163.1 L653.6 1163.4 L654.6 1163.6 L655.6 1163.9 L656.6 1164.2 L657.6 1164.6 L658.6 1164.9 L659.6 1165.3 L660.6 1165.6 L661.6 1166.0 L662.6 1166.4 L663.3 1166.7 L663.6 1166.8 L664.6 1167.2 L665.6 1167.6 L666.6 1168.1 L667.6 1168.7 L668.6 1169.2 L669.6 1169.8 L670.6 1170.3 L671.6 1170.9 L672.6 1171.5 L673.6 1172.1 L674.6 1172.8 L675.6 1173.4 L676.6 1174.0 L676.7 1174.0 L677.6 1174.6 L678.6 1175.2 L679.6 1175.8 L680.6 1176.4 L681.6 1177.1 L682.6 1177.7 L683.6 1178.4 L684.6 1179.1 L685.6 1179.7 L686.0 1180.0 L686.6 1180.4 L687.6 1181.1 L688.6 1181.8 L689.6 1182.5 L690.6 1183.2 L691.6 1183.9 L692.6 1184.6 L693.6 1185.3 L694.6 1186.0 L694.9 1186.3 L695.6 1186.7 L696.6 1187.5 L697.6 1188.2 L698.6 1188.9 L699.6 1189.7 L700.6 1190.4 L701.6 1191.2 L702.6 1191.9 L703.3 1192.4 L703.6 1192.6 L704.6 1193.3 L705.6 1194.0 L706.6 1194.7 L707.6 1195.4 L708.6 1196.0 L709.6 1196.7 L710.6 1197.4 L711.6 1198.1 L712.6 1198.7 L713.6 1199.4 L714.6 1200.1 L715.6 1200.8 L716.6 1201.4 L717.6 1202.1 L718.6 1202.8 L719.3 1203.3 L719.6 1203.5 L720.6 1204.2 L721.6 1204.9 L722.6 1205.7 L723.6 1206.4 L724.6 1207.1 L725.6 1207.8 L726.6 1208.5 L727.6 1209.2 L728.6 1210.0 L729.6 1210.7 L730.6 1211.4 L730.9 1211.6 L731.6 1212.1 L732.6 1212.7 L733.6 1213.4 L734.6 1214.1 L735.6 1214.8 L736.6 1215.5 L737.6 1216.1 L738.6 1216.8 L739.6 1217.5 L740.6 1218.1 L741.6 1218.8 L742.6 1219.5 L743.6 1220.1 L744.6 1220.8 L745.6 1221.5 L746.6 1222.1 L747.6 1222.8 L748.0 1223.1 L748.6 1223.5 L749.6 1224.1 L750.6 1224.8 L751.6 1225.4 L752.6 1226.1 L753.6 1226.8 L754.6 1227.4 L755.6 1228.1 L756.6 1228.8 L757.6 1229.4 L758.4 1230.0 L758.6 1230.1 L759.6 1230.9 L760.6 1231.6 L761.6 1232.3 L762.6 1233.1 L763.6 1233.8 L764.6 1234.6 L765.6 1235.3 L766.6 1236.1 L767.6 1236.8 L768.6 1237.6 L769.6 1238.4 L770.0 1238.7 L770.6 1239.1 L771.6 1239.9 L772.6 1240.6 L773.6 1241.4 L774.6 1242.2 L775.6 1242.9 L776.6 1243.7 L777.6 1244.5 L778.6 1245.2 L779.6 1246.0 L780.6 1246.8 L781.6 1247.6 L782.6 1248.4 L783.3 1248.9 L783.6 1249.1 L784.6 1249.9 L785.6 1250.7 L786.6 1251.5 L787.6 1252.3 L788.6 1253.1 L789.6 1253.9 L790.6 1254.7 L791.6 1255.5 L792.6 1256.3 L793.6 1257.1 L794.6 1257.9 L795.6 1258.7 L796.6 1259.5 L796.7 1259.6 L797.6 1260.4 L798.6 1261.2 L799.6 1262.0 L800.6 1262.8 L801.6 1263.6 L802.6 1264.4 L803.6 1265.2 L804.6 1266.0 L805.6 1266.9 L806.6 1267.7 L807.6 1268.6 L808.6 1269.4 L809.6 1270.3 L810.0 1270.7 L810.6 1271.2 L811.6 1272.1 L812.6 1273.1 L813.6 1274.1 L814.6 1275.0 L815.6 1276.0 L816.6 1277.0 L817.6 1278.1 L818.6 1279.1 L819.6 1280.1 L820.6 1281.1 L821.6 1282.1 L822.6 1283.0 L823.3 1283.7 L823.6 1284.0 L824.6 1284.9 L825.6 1285.9 L826.6 1286.8 L827.6 1287.7 L828.6 1288.6 L829.6 1289.5 L830.6 1290.4 L831.6 1291.3 L832.6 1292.2 L833.6 1293.1 L834.6 1294.1 L835.6 1295.0 L836.6 1295.9 L836.7 1296.0 L837.6 1296.9 L838.6 1297.8 L839.6 1298.8 L840.6 1299.8 L841.6 1300.8 L842.6 1301.7 L843.6 1302.7 L844.6 1303.7 L845.6 1304.7 L846.6 1305.7 L847.6 1306.7 L848.6 1307.7 L849.6 1308.7 L850.0 1309.1 L850.6 1309.7 L851.6 1310.7 L852.6 1311.7 L853.6 1312.6 L854.6 1313.6 L855.6 1314.7 L856.6 1315.7 L857.6 1316.7 L858.6 1317.7 L858.9 1318.0 L859.6 1318.7 L860.6 1319.7 L861.6 1320.7 L862.6 1321.7 L863.6 1322.7 L864.6 1323.7 L865.6 1324.7 L866.6 1325.8 L867.6 1326.8 L868.6 1327.8 L869.6 1328.8 L870.6 1329.8 L871.6 1330.8 L872.6 1331.9 L873.6 1332.9 L874.6 1333.9 L875.6 1334.9 L876.6 1335.9 L876.7 1336.0 L877.6 1336.9 L878.6 1338.0 L879.6 1339.0 L880.6 1340.0 L881.6 1341.0 L882.6 1342.0 L883.6 1343.1 L884.6 1344.1 L885.6 1345.1 L886.6 1346.1 L887.6 1347.1 L888.6 1348.2 L889.6 1349.2 L890.0 1349.6 L890.6 1350.2 L891.6 1351.2 L892.6 1352.3 L893.6 1353.3 L894.6 1354.4 L895.6 1355.4 L896.6 1356.4 L897.6 1357.5 L898.6 1358.5 L899.6 1359.5 L900.6 1360.6 L901.6 1361.6 L902.6 1362.6 L903.3 1363.3 L903.6 1363.6 L904.6 1364.6 L905.6 1365.6 L906.6 1366.6 L907.6 1367.6 L908.6 1368.5 L909.6 1369.5 L910.6 1370.5 L911.6 1371.5 L912.6 1372.4 L913.6 1373.4 L914.6 1374.3 L915.6 1375.3 L916.6 1376.2 L916.7 1376.3 L917.6 1377.1 L918.6 1378.1 L919.6 1379.0 L920.6 1379.9 L921.6 1380.8 L922.6 1381.7 L923.6 1382.7 L924.6 1383.6 L925.6 1384.4 L926.6 1385.3 L927.6 1386.2 L928.6 1387.1 L929.6 1387.9 L930.0 1388.3 L930.6 1388.8 L931.6 1389.6 L932.6 1390.5 L933.6 1391.3 L934.6 1392.1 L935.6 1392.9 L936.6 1393.7 L937.6 1394.5 L938.6 1395.3 L939.6 1396.1 L940.6 1396.9 L941.6 1397.6 L942.6 1398.4 L943.3 1398.9 L943.6 1399.1 L944.6 1399.9 L945.6 1400.6 L946.6 1401.3 L947.6 1402.0 L948.6 1402.8 L949.6 1403.5 L950.6 1404.1 L951.6 1404.8 L952.6 1405.5 L953.6 1406.1 L954.6 1406.8 L955.6 1407.4 L956.6 1408.0 L956.7 1408.0 L957.6 1408.5 L958.6 1409.1 L959.6 1409.6 L960.6 1410.1 L961.6 1410.6 L962.6 1411.1 L963.6 1411.6 L964.6 1412.1 L965.6 1412.6 L966.6 1413.1 L967.6 1413.5 L968.6 1414.0 L969.6 1414.5 L970.0 1414.7 L970.6 1415.0 L971.6 1415.5 L972.6 1416.0 L973.6 1416.5 L974.6 1417.0 L975.6 1417.5 L976.6 1417.9 L977.6 1418.3 L978.6 1418.6 L978.9 1418.7 L979.6 1418.8 L980.6 1419.0 L981.6 1419.3 L982.6 1419.5 L983.6 1419.6 L984.6 1419.8 L985.6 1419.9 L986.6 1420.0 L987.6 1420.0 L987.9 1420.0 L988.6 1420.0 L989.6 1420.0 L990.6 1420.0 L991.6 1420.0 L992.6 1420.0 L993.6 1420.0 L994.6 1420.0 L995.6 1420.0 L996.6 1420.0 L997.6 1420.0 L998.6 1420.0 L999.6 1420.0 L1000.6 1420.0 L1001.6 1420.0 L1002.6 1420.0 L1003.6 1420.0 L1004.6 1420.0 L1005.6 1420.0 L1005.8 1420.0 L1006.6 1420.0 L1007.6 1419.9 L1008.6 1419.9 L1009.6 1419.7 L1010.6 1419.6 L1011.6 1419.5 L1012.6 1419.3 L1013.6 1419.1 L1014.6 1419.0 L1014.7 1419.0 L1015.6 1418.8 L1016.6 1418.7 L1017.6 1418.5 L1018.6 1418.3 L1019.6 1418.1 L1020.6 1417.8 L1021.6 1417.6 L1022.6 1417.4 L1023.6 1417.1 L1024.6 1416.9 L1025.6 1416.6 L1026.6 1416.3 L1027.6 1416.0 L1028.6 1415.8 L1029.6 1415.5 L1030.6 1415.2 L1031.6 1414.9 L1032.6 1414.6 L1032.6 1414.6 L1033.6 1414.4 L1034.6 1414.1 L1035.6 1413.8 L1036.6 1413.5 L1037.6 1413.1 L1038.6 1412.8 L1039.6 1412.5 L1040.6 1412.2 L1041.6 1411.8 L1042.6 1411.5 L1043.6 1411.1 L1044.6 1410.8 L1045.6 1410.4 L1046.6 1410.1 L1047.6 1409.7 L1048.6 1409.4 L1049.6 1409.0 L1050.5 1408.7 L1050.6 1408.6 L1051.6 1408.3 L1052.6 1407.9 L1053.6 1407.6 L1054.6 1407.2 L1055.6 1406.8 L1056.6 1406.4 L1057.6 1406.1 L1058.6 1405.7 L1059.6 1405.3 L1060.6 1404.9 L1061.6 1404.5 L1062.6 1404.1 L1063.6 1403.7 L1064.6 1403.3 L1065.6 1402.9 L1066.6 1402.5 L1067.6 1402.1 L1068.4 1401.8 L1068.6 1401.7 L1069.6 1401.3 L1070.6 1400.9 L1071.6 1400.5 L1072.6 1400.1 L1073.6 1399.7 L1074.6 1399.3 L1075.6 1398.8 L1076.6 1398.4 L1077.6 1398.0 L1078.6 1397.5 L1079.6 1397.1 L1080.6 1396.7 L1081.6 1396.2 L1082.6 1395.8 L1083.6 1395.3 L1084.6 1394.9 L1085.6 1394.4 L1086.2 1394.1 L1086.6 1393.9 L1087.6 1393.4 L1088.6 1393.0 L1089.6 1392.5 L1090.6 1392.0 L1091.6 1391.5 L1092.6 1391.0 L1093.6 1390.4 L1094.6 1389.9 L1095.6 1389.4 L1096.6 1388.9 L1097.6 1388.3 L1098.6 1387.8 L1099.6 1387.2 L1100.6 1386.6 L1101.1 1386.3 L1101.6 1386.1 L1102.6 1385.5 L1103.6 1384.9 L1104.6 1384.3 L1105.6 1383.7 L1106.6 1383.1 L1107.6 1382.4 L1108.6 1381.8 L1109.6 1381.1 L1110.6 1380.5 L1111.0 1380.2 L1111.6 1379.8 L1112.6 1379.1 L1113.6 1378.4 L1114.6 1377.8 L1115.6 1377.1 L1116.6 1376.3 L1117.6 1375.6 L1118.6 1374.9 L1119.6 1374.1 L1120.6 1373.4 L1121.6 1372.6 L1122.6 1371.9 L1123.6 1371.1 L1124.6 1370.3 L1125.0 1369.9 L1125.6 1369.4 L1126.6 1368.6 L1127.6 1367.7 L1128.6 1366.9 L1129.6 1366.0 L1130.6 1365.1 L1131.6 1364.1 L1132.6 1363.2 L1133.6 1362.3 L1134.6 1361.3 L1135.6 1360.3 L1136.6 1359.4 L1136.9 1359.1 L1137.6 1358.4 L1138.6 1357.4 L1139.6 1356.4 L1140.6 1355.3 L1141.6 1354.3 L1142.6 1353.2 L1143.6 1352.2 L1144.6 1351.1 L1145.6 1350.0 L1146.6 1349.0 L1147.3 1348.2 L1147.6 1347.9 L1148.6 1346.8 L1149.6 1345.8 L1150.6 1344.7 L1151.6 1343.6 L1152.6 1342.5 L1153.6 1341.4 L1154.5 1340.4" stroke="#00f" stroke-width="2" fill="none" stroke-linejoin="round" shape-rendering="crispEdges"/>
<path d="M165.6 1271.7 L166.6 1270.7 L167.6 1269.6 L168.6 1268.5 L169.6 1267.4 L170.6 1266.3 L171.6 1265.2 L172.6 1264.1 L173.3 1263.3 L173.6 1263.0 L174.6 1262.0 L175.6 1260.9 L176.6 1259.8 L177.6 1258.7 L178.6 1257.6 L179.6 1256.5 L180.6 1255.4 L181.6 1254.3 L182.6 1253.2 L183.6 1252.1 L184.6 1251.0 L185.6 1249.9 L186.6 1248.7 L186.7 1248.7 L187.6 1247.6 L188.6 1246.4 L189.6 1245.3 L190.6 1244.1 L191.6 1242.9 L192.6 1241.7 L193.6 1240.5 L194.6 1239.3 L195.6 1238.0 L196.6 1236.8 L197.6 1235.6 L198.6 1234.4 L199.6 1233.2 L200.0 1232.7 L200.6 1231.9 L201.6 1230.7 L202.6 1229.4 L203.6 1228.2 L204.6 1226.9 L205.6 1225.7 L206.6 1224.4 L207.6 1223.2 L208.6 1221.9 L209.6 1220.6 L210.6 1219.4 L211.6 1218.1 L212.6 1216.9 L213.3 1216.0 L213.6 1215.7 L214.6 1214.5 L215.6 1213.2 L216.6 1212.0 L217.6 1210.8 L218.6 1209.6 L219.6 1208.4 L220.6 1207.2 L221.6 1206.0 L222.6 1204.8 L223.6 1203.6 L224.6 1202.4 L225.6 1201.3 L226.6 1200.1 L226.7 1200.0 L227.6 1198.9 L228.6 1197.7 L229.6 1196.6 L230.6 1195.4 L231.6 1194.2 L232.6 1193.1 L233.6 1191.9 L234.6 1190.7 L235.6 1189.6 L236.6 1188.5 L237.6 1187.3 L238.6 1186.2 L239.6 1185.1 L240.0 1184.7 L240.6 1184.0 L241.6 1182.9 L242.6 1181.8 L243.6 1180.7 L244.6 1179.6 L245.6 1178.5 L246.6 1177.5 L247.6 1176.4 L248.6 1175.4 L249.6 1174.3 L250.6 1173.3 L251.6 1172.3 L252.6 1171.4 L253.3 1170.7 L253.6 1170.4 L254.6 1169.5 L255.6 1168.6 L256.6 1167.6 L257.6 1166.7 L258.6 1165.8 L259.6 1165.0 L260.6 1164.1 L261.6 1163.2 L262.6 1162.4 L263.6 1161.6 L264.6 1160.8 L265.6 1160.1 L266.6 1159.4 L266.7 1159.3 L267.6 1158.7 L268.6 1158.0 L269.6 1157.3 L270.6 1156.7 L271.6 1156.1 L272.6 1155.4 L273.6 1154.8 L274.6 1154.3 L275.6 1153.7 L276.6 1153.1 L277.6 1152.6 L278.6 1152.1 L279.6 1151.5 L280.0 1151.3 L280.6 1151.0 L281.6 1150.5 L282.6 1150.0 L283.6 1149.5 L284.6 1148.9 L285.6 1148.5 L286.6 1148.0 L287.6 1147.6 L288.6 1147.2 L289.6 1146.9 L290.6 1146.7 L290.7 1146.7 L291.6 1146.5 L292.6 1146.3 L293.6 1146.1 L294.6 1146.0 L295.6 1145.8 L296.6 1145.7 L297.6 1145.5 L298.6 1145.4 L299.6 1145.4 L300.6 1145.3 L301.3 1145.3 L301.6 1145.3 L302.6 1145.4 L303.6 1145.4 L304.6 1145.5 L305.6 1145.5 L306.6 1145.6 L307.6 1145.8 L308.6 1145.9 L309.6 1146.0 L310.6 1146.2 L311.6 1146.3 L312.0 1146.4 L312.6 1146.5 L313.6 1146.7 L314.6 1147.0 L315.6 1147.4 L316.6 1147.7 L317.6 1148.2 L318.6 1148.6 L319.6 1149.1 L320.6 1149.6 L321.6 1150.1 L322.6 1150.6 L322.7 1150.7 L323.6 1151.2 L324.6 1151.8 L325.6 1152.5 L326.6 1153.3 L327.6 1154.1 L328.6 1154.9 L329.6 1155.7 L330.0 1156.0 L330.6 1156.5 L331.6 1157.3 L332.6 1158.1 L333.6 1159.0 L334.6 1159.8 L335.6 1160.7 L336.6 1161.6 L337.6 1162.5 L338.6 1163.4 L339.6 1164.3 L340.6 1165.3 L341.6 1166.3 L342.6 1167.3 L343.3 1168.0 L343.6 1168.3 L344.6 1169.3 L345.6 1170.4 L346.6 1171.4 L347.6 1172.5 L348.6 1173.7 L349.6 1174.8 L350.6 1176.0 L351.6 1177.2 L352.6 1178.4 L353.6 1179.6 L354.6 1180.8 L355.6 1182.0 L356.6 1183.3 L356.7 1183.3 L357.6 1184.5 L358.6 1185.8 L359.6 1187.1 L360.6 1188.4 L361.6 1189.8 L362.6 1191.1 L363.6 1192.5 L364.6 1193.9 L365.6 1195.2 L366.6 1196.6 L367.6 1198.0 L368.6 1199.4 L369.6 1200.8 L370.0 1201.3 L370.6 1202.2 L371.6 1203.5 L372.6 1204.9 L373.6 1206.3 L374.6 1207.6 L375.6 1209.0 L376.6 1210.4 L377.6 1211.8 L378.6 1213.2 L379.6 1214.6 L380.6 1216.0 L381.6 1217.5 L382.6 1218.9 L383.3 1220.0 L383.6 1220.4 L384.6 1221.9 L385.6 1223.4 L386.6 1224.9 L387.6 1226.4 L388.6 1228.0 L389.6 1229.5 L390.6 1231.1 L391.6 1232.7 L392.6 1234.2 L393.6 1235.8 L394.6 1237.4 L395.6 1239.0 L396.6 1240.6 L396.7 1240.7 L397.6 1242.1 L398.6 1243.7 L399.6 1245.3 L400.6 1246.9 L401.6 1248.5 L402.6 1250.1 L403.6 1251.7 L404.6 1253.3 L405.6 1254.9 L406.6 1256.5 L407.6 1258.2 L408.6 1259.8 L409.6 1261.4 L410.0 1262.0 L410.6 1263.0 L411.6 1264.6 L412.6 1266.2 L413.6 1267.8 L414.6 1269.4 L415.6 1271.0 L416.6 1272.6 L417.6 1274.3 L418.6 1275.9 L419.6 1277.5 L420.6 1279.0 L421.6 1280.6 L422.6 1282.2 L423.3 1283.3 L423.6 1283.7 L424.6 1285.3 L425.6 1286.9 L426.6 1288.4 L427.6 1290.0 L428.6 1291.5 L429.6 1293.1 L430.6 1294.6 L431.6 1296.1 L432.6 1297.6 L433.6 1299.1 L434.6 1300.5 L435.6 1301.9 L436.6 1303.2 L436.7 1303.3 L437.6 1304.6 L438.6 1305.9 L439.6 1307.2 L440.6 1308.5 L441.6 1309.8 L442.6 1311.0 L443.6 1312.2 L444.6 1313.4 L445.6 1314.6 L446.6 1315.7 L447.6 1316.8 L448.6 1317.9 L449.6 1318.9 L450.0 1319.3 L450.6 1319.9 L451.6 1320.9 L452.6 1321.9 L453.6 1322.8 L454.6 1323.7 L455.6 1324.6 L456.6 1325.5 L457.6 1326.4 L458.6 1327.2 L459.6 1328.0 L460.6 1328.8 L461.6 1329.5 L462.6 1330.2 L463.3 1330.7 L463.6 1330.8 L464.6 1331.5 L465.6 1332.1 L466.6 1332.7 L467.6 1333.3 L468.6 1333.8 L469.6 1334.3 L470.6 1334.7 L471.3 1334.9 L471.6 1335.0 L472.6 1335.3 L473.6 1335.6 L474.6 1335.9 L475.6 1336.2 L476.6 1336.4 L477.6 1336.5 L478.6 1336.6 L479.3 1336.7 L479.6 1336.7 L480.6 1336.6 L481.6 1336.6 L482.6 1336.6 L483.6 1336.5 L484.6 1336.4 L485.6 1336.3 L486.0 1336.3 L486.6 1336.2 L487.6 1335.9 L488.6 1335.6 L489.6 1335.2 L490.6 1334.7 L491.6 1334.2 L492.6 1333.7" stroke="#0f0" stroke-width="2" fill="none" stroke-linejoin="round" shape-rendering="crispEdges"/>
<rect x="165.5" y="1142.5" width="989.0" height="310.0" fill="none" stroke="#262626" stroke-width="1.2"/>
<text class="tk" x="157.2" y="1148.7" text-anchor="end">45000</text>
<text class="tk" x="157.2" y="1200.4" text-anchor="end">40000</text>
<text class="tk" x="157.2" y="1252.0" text-anchor="end">35000</text>
<text class="tk" x="157.2" y="1303.7" text-anchor="end">30000</text>
<text class="tk" x="157.2" y="1355.4" text-anchor="end">25000</text>
<text class="tk" x="157.2" y="1407.0" text-anchor="end">20000</text>
<text class="tk" x="157.2" y="1458.7" text-anchor="end">15000</text>
<text class="yl" transform="translate(53.3 1298.2) rotate(-90)" text-anchor="middle">CRF Coordinates</text>
<text class="yl" transform="translate(79.5 1298.2) rotate(-90)" text-anchor="middle">|B| (nT)</text>
<text class="lg" transform="translate(1176.4 1359.4) rotate(-90)">Inboard B</text>
<text class="lg" transform="translate(1196.2 1359.4) rotate(-90)">Outboard B</text>
<text class="lg" transform="translate(1215.2 1359.4) rotate(-90)">Model B</text>
<path d="M1171.0 1389 V1406" stroke="#00f" stroke-width="2"/><path d="M1191 1389 V1406" stroke="#0f0" stroke-width="2"/><path d="M1211 1389 V1406" stroke="#f00" stroke-width="2"/>
</g>
<g id="table">
<text class="tb" x="24.3" y="1484.0">Time:</text>
<text class="tb" x="165.3" y="1484.0" text-anchor="middle">03:08:13</text>
<text class="tb" x="412.6" y="1484.0" text-anchor="middle">03:33:25</text>
<text class="tb" x="659.8" y="1484.0" text-anchor="middle">03:58:38</text>
<text class="tb" x="907.9" y="1484.0" text-anchor="middle">04:23:50</text>
<text class="tb" x="1155" y="1484.0" text-anchor="middle">04:49:02</text>
<text class="tb" x="24.3" y="1508.0">Rad(km):</text>
<text class="tb" x="165.3" y="1508.0" text-anchor="middle">7384.7</text>
<text class="tb" x="412.6" y="1508.0" text-anchor="middle">6735.4</text>
<text class="tb" x="659.8" y="1508.0" text-anchor="middle">7053.6</text>
<text class="tb" x="907.9" y="1508.0" text-anchor="middle">7657.6</text>
<text class="tb" x="1155" y="1508.0" text-anchor="middle">7393.5</text>
<text class="tb" x="24.3" y="1533.0">Lat:</text>
<text class="tb" x="165.3" y="1533.0" text-anchor="middle">-53.0</text>
<text class="tb" x="412.6" y="1533.0" text-anchor="middle">-31.6</text>
<text class="tb" x="659.8" y="1533.0" text-anchor="middle">66.3</text>
<text class="tb" x="907.9" y="1533.0" text-anchor="middle">27.0</text>
<text class="tb" x="1155" y="1533.0" text-anchor="middle">-51.8</text>
<text class="tb" x="24.3" y="1557.6">Lon:</text>
<text class="tb" x="165.3" y="1557.6" text-anchor="middle">70.8</text>
<text class="tb" x="412.6" y="1557.6" text-anchor="middle">-133.3</text>
<text class="tb" x="659.8" y="1557.6" text-anchor="middle">-112.8</text>
<text class="tb" x="907.9" y="1557.6" text-anchor="middle">35.0</text>
<text class="tb" x="1155" y="1557.6" text-anchor="middle">44.9</text>
<text class="tb" x="24.3" y="1582.5">Mlat:</text>
<text class="tb" x="165.3" y="1582.5" text-anchor="middle">-60.2</text>
<text class="tb" x="412.6" y="1582.5" text-anchor="middle">-26.6</text>
<text class="tb" x="659.8" y="1582.5" text-anchor="middle">72.6</text>
<text class="tb" x="907.9" y="1582.5" text-anchor="middle">23.8</text>
<text class="tb" x="1155" y="1582.5" text-anchor="middle">-55.3</text>
<text class="tb" x="24.3" y="1607.0">Mlt:</text>
<text class="tb" x="165.3" y="1607.0" text-anchor="middle">7.295</text>
<text class="tb" x="412.6" y="1607.0" text-anchor="middle">19.049</text>
<text class="tb" x="659.8" y="1607.0" text-anchor="middle">19.229</text>
<text class="tb" x="907.9" y="1607.0" text-anchor="middle">7.096</text>
<text class="tb" x="1155" y="1607.0" text-anchor="middle">7.093</text>
</g>
<text class="ft" x="1258.5" y="1643.4" text-anchor="end">Summary of MGF_20170916_030813_044902_v2.1.0.lv2 on 14-Jun-2024 21:54:23 (calibration cas_mgf_7day_cal_2017_09_15_v2.1.mat )</text>
</svg>
</body></html>
